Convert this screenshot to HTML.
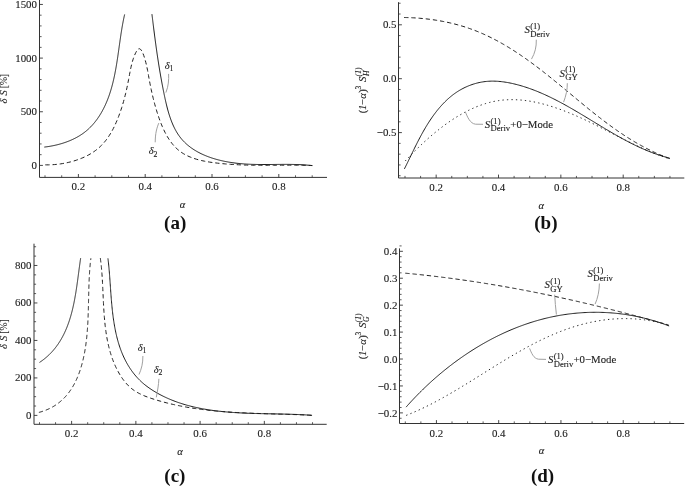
<!DOCTYPE html>
<html><head><meta charset="utf-8"><style>
html,body{margin:0;padding:0;background:#fff;}
svg{display:block;font-family:"Liberation Serif", serif;will-change:transform;}
text{stroke:#222;stroke-width:0.12px;}
</style></head><body>
<svg width="685" height="487" viewBox="0 0 685 487">
<rect width="685" height="487" fill="#fff"/>
<line x1="39.5" y1="177.4" x2="327" y2="177.4" stroke="#333333" stroke-width="1"/>
<line x1="39.5" y1="177.4" x2="39.5" y2="0" stroke="#333333" stroke-width="1"/>
<line x1="78.40" y1="177.4" x2="78.40" y2="174.00" stroke="#333333" stroke-width="0.9"/>
<line x1="145.20" y1="177.4" x2="145.20" y2="174.00" stroke="#333333" stroke-width="0.9"/>
<line x1="212.00" y1="177.4" x2="212.00" y2="174.00" stroke="#333333" stroke-width="0.9"/>
<line x1="278.80" y1="177.4" x2="278.80" y2="174.00" stroke="#333333" stroke-width="0.9"/>
<line x1="45.00" y1="177.4" x2="45.00" y2="175.30" stroke="#333333" stroke-width="0.8"/>
<line x1="61.70" y1="177.4" x2="61.70" y2="175.30" stroke="#333333" stroke-width="0.8"/>
<line x1="95.10" y1="177.4" x2="95.10" y2="175.30" stroke="#333333" stroke-width="0.8"/>
<line x1="111.80" y1="177.4" x2="111.80" y2="175.30" stroke="#333333" stroke-width="0.8"/>
<line x1="128.50" y1="177.4" x2="128.50" y2="175.30" stroke="#333333" stroke-width="0.8"/>
<line x1="161.90" y1="177.4" x2="161.90" y2="175.30" stroke="#333333" stroke-width="0.8"/>
<line x1="178.60" y1="177.4" x2="178.60" y2="175.30" stroke="#333333" stroke-width="0.8"/>
<line x1="195.30" y1="177.4" x2="195.30" y2="175.30" stroke="#333333" stroke-width="0.8"/>
<line x1="228.70" y1="177.4" x2="228.70" y2="175.30" stroke="#333333" stroke-width="0.8"/>
<line x1="245.40" y1="177.4" x2="245.40" y2="175.30" stroke="#333333" stroke-width="0.8"/>
<line x1="262.10" y1="177.4" x2="262.10" y2="175.30" stroke="#333333" stroke-width="0.8"/>
<line x1="295.50" y1="177.4" x2="295.50" y2="175.30" stroke="#333333" stroke-width="0.8"/>
<line x1="312.20" y1="177.4" x2="312.20" y2="175.30" stroke="#333333" stroke-width="0.8"/>
<line x1="39.5" y1="165.40" x2="42.90" y2="165.40" stroke="#333333" stroke-width="0.9"/>
<line x1="39.5" y1="111.75" x2="42.90" y2="111.75" stroke="#333333" stroke-width="0.9"/>
<line x1="39.5" y1="58.10" x2="42.90" y2="58.10" stroke="#333333" stroke-width="0.9"/>
<line x1="39.5" y1="4.45" x2="42.90" y2="4.45" stroke="#333333" stroke-width="0.9"/>
<line x1="39.5" y1="154.67" x2="41.60" y2="154.67" stroke="#333333" stroke-width="0.8"/>
<line x1="39.5" y1="143.94" x2="41.60" y2="143.94" stroke="#333333" stroke-width="0.8"/>
<line x1="39.5" y1="133.21" x2="41.60" y2="133.21" stroke="#333333" stroke-width="0.8"/>
<line x1="39.5" y1="122.48" x2="41.60" y2="122.48" stroke="#333333" stroke-width="0.8"/>
<line x1="39.5" y1="101.02" x2="41.60" y2="101.02" stroke="#333333" stroke-width="0.8"/>
<line x1="39.5" y1="90.29" x2="41.60" y2="90.29" stroke="#333333" stroke-width="0.8"/>
<line x1="39.5" y1="79.56" x2="41.60" y2="79.56" stroke="#333333" stroke-width="0.8"/>
<line x1="39.5" y1="68.83" x2="41.60" y2="68.83" stroke="#333333" stroke-width="0.8"/>
<line x1="39.5" y1="47.37" x2="41.60" y2="47.37" stroke="#333333" stroke-width="0.8"/>
<line x1="39.5" y1="36.64" x2="41.60" y2="36.64" stroke="#333333" stroke-width="0.8"/>
<line x1="39.5" y1="25.91" x2="41.60" y2="25.91" stroke="#333333" stroke-width="0.8"/>
<line x1="39.5" y1="15.18" x2="41.60" y2="15.18" stroke="#333333" stroke-width="0.8"/>
<text x="78.40" y="190" font-size="10.9" text-anchor="middle" font-style="normal" font-weight="normal" fill="#222" >0.2</text>
<text x="145.20" y="190" font-size="10.9" text-anchor="middle" font-style="normal" font-weight="normal" fill="#222" >0.4</text>
<text x="212.00" y="190" font-size="10.9" text-anchor="middle" font-style="normal" font-weight="normal" fill="#222" >0.6</text>
<text x="278.80" y="190" font-size="10.9" text-anchor="middle" font-style="normal" font-weight="normal" fill="#222" >0.8</text>
<text x="37" y="169.00" font-size="10.9" text-anchor="end" font-style="normal" font-weight="normal" fill="#222" >0</text>
<text x="37" y="115.35" font-size="10.9" text-anchor="end" font-style="normal" font-weight="normal" fill="#222" >500</text>
<text x="37" y="61.70" font-size="10.9" text-anchor="end" font-style="normal" font-weight="normal" fill="#222" >1000</text>
<text x="37" y="8.05" font-size="10.9" text-anchor="end" font-style="normal" font-weight="normal" fill="#222" >1500</text>
<line x1="398.5" y1="178.0" x2="684.3" y2="178.0" stroke="#333333" stroke-width="1"/>
<line x1="398.5" y1="178.0" x2="398.5" y2="2.2" stroke="#333333" stroke-width="1"/>
<line x1="436.17" y1="178.0" x2="436.17" y2="174.60" stroke="#333333" stroke-width="0.9"/>
<line x1="498.51" y1="178.0" x2="498.51" y2="174.60" stroke="#333333" stroke-width="0.9"/>
<line x1="560.85" y1="178.0" x2="560.85" y2="174.60" stroke="#333333" stroke-width="0.9"/>
<line x1="623.19" y1="178.0" x2="623.19" y2="174.60" stroke="#333333" stroke-width="0.9"/>
<line x1="405.00" y1="178.0" x2="405.00" y2="175.90" stroke="#333333" stroke-width="0.8"/>
<line x1="420.58" y1="178.0" x2="420.58" y2="175.90" stroke="#333333" stroke-width="0.8"/>
<line x1="451.75" y1="178.0" x2="451.75" y2="175.90" stroke="#333333" stroke-width="0.8"/>
<line x1="467.34" y1="178.0" x2="467.34" y2="175.90" stroke="#333333" stroke-width="0.8"/>
<line x1="482.92" y1="178.0" x2="482.92" y2="175.90" stroke="#333333" stroke-width="0.8"/>
<line x1="514.10" y1="178.0" x2="514.10" y2="175.90" stroke="#333333" stroke-width="0.8"/>
<line x1="529.68" y1="178.0" x2="529.68" y2="175.90" stroke="#333333" stroke-width="0.8"/>
<line x1="545.26" y1="178.0" x2="545.26" y2="175.90" stroke="#333333" stroke-width="0.8"/>
<line x1="576.43" y1="178.0" x2="576.43" y2="175.90" stroke="#333333" stroke-width="0.8"/>
<line x1="592.02" y1="178.0" x2="592.02" y2="175.90" stroke="#333333" stroke-width="0.8"/>
<line x1="607.61" y1="178.0" x2="607.61" y2="175.90" stroke="#333333" stroke-width="0.8"/>
<line x1="638.77" y1="178.0" x2="638.77" y2="175.90" stroke="#333333" stroke-width="0.8"/>
<line x1="654.36" y1="178.0" x2="654.36" y2="175.90" stroke="#333333" stroke-width="0.8"/>
<line x1="669.94" y1="178.0" x2="669.94" y2="175.90" stroke="#333333" stroke-width="0.8"/>
<line x1="398.5" y1="24.80" x2="401.90" y2="24.80" stroke="#333333" stroke-width="0.9"/>
<line x1="398.5" y1="78.70" x2="401.90" y2="78.70" stroke="#333333" stroke-width="0.9"/>
<line x1="398.5" y1="132.60" x2="401.90" y2="132.60" stroke="#333333" stroke-width="0.9"/>
<line x1="398.5" y1="175.72" x2="400.60" y2="175.72" stroke="#333333" stroke-width="0.8"/>
<line x1="398.5" y1="164.94" x2="400.60" y2="164.94" stroke="#333333" stroke-width="0.8"/>
<line x1="398.5" y1="154.16" x2="400.60" y2="154.16" stroke="#333333" stroke-width="0.8"/>
<line x1="398.5" y1="143.38" x2="400.60" y2="143.38" stroke="#333333" stroke-width="0.8"/>
<line x1="398.5" y1="121.82" x2="400.60" y2="121.82" stroke="#333333" stroke-width="0.8"/>
<line x1="398.5" y1="111.04" x2="400.60" y2="111.04" stroke="#333333" stroke-width="0.8"/>
<line x1="398.5" y1="100.26" x2="400.60" y2="100.26" stroke="#333333" stroke-width="0.8"/>
<line x1="398.5" y1="89.48" x2="400.60" y2="89.48" stroke="#333333" stroke-width="0.8"/>
<line x1="398.5" y1="67.92" x2="400.60" y2="67.92" stroke="#333333" stroke-width="0.8"/>
<line x1="398.5" y1="57.14" x2="400.60" y2="57.14" stroke="#333333" stroke-width="0.8"/>
<line x1="398.5" y1="46.36" x2="400.60" y2="46.36" stroke="#333333" stroke-width="0.8"/>
<line x1="398.5" y1="35.58" x2="400.60" y2="35.58" stroke="#333333" stroke-width="0.8"/>
<line x1="398.5" y1="14.02" x2="400.60" y2="14.02" stroke="#333333" stroke-width="0.8"/>
<line x1="398.5" y1="3.24" x2="400.60" y2="3.24" stroke="#333333" stroke-width="0.8"/>
<text x="436.17" y="190.8" font-size="10.9" text-anchor="middle" font-style="normal" font-weight="normal" fill="#222" >0.2</text>
<text x="498.51" y="190.8" font-size="10.9" text-anchor="middle" font-style="normal" font-weight="normal" fill="#222" >0.4</text>
<text x="560.85" y="190.8" font-size="10.9" text-anchor="middle" font-style="normal" font-weight="normal" fill="#222" >0.6</text>
<text x="623.19" y="190.8" font-size="10.9" text-anchor="middle" font-style="normal" font-weight="normal" fill="#222" >0.8</text>
<text x="396.5" y="28.40" font-size="10.9" text-anchor="end" font-style="normal" font-weight="normal" fill="#222" >0.5</text>
<text x="396.5" y="82.30" font-size="10.9" text-anchor="end" font-style="normal" font-weight="normal" fill="#222" >0.0</text>
<text x="396.5" y="136.20" font-size="10.9" text-anchor="end" font-style="normal" font-weight="normal" fill="#222" >&#8722;0.5</text>
<line x1="34.0" y1="424.3" x2="326.7" y2="424.3" stroke="#333333" stroke-width="1"/>
<line x1="34.0" y1="424.3" x2="34.0" y2="243.7" stroke="#333333" stroke-width="1"/>
<line x1="71.62" y1="424.3" x2="71.62" y2="420.90" stroke="#333333" stroke-width="0.9"/>
<line x1="135.86" y1="424.3" x2="135.86" y2="420.90" stroke="#333333" stroke-width="0.9"/>
<line x1="200.10" y1="424.3" x2="200.10" y2="420.90" stroke="#333333" stroke-width="0.9"/>
<line x1="264.34" y1="424.3" x2="264.34" y2="420.90" stroke="#333333" stroke-width="0.9"/>
<line x1="39.50" y1="424.3" x2="39.50" y2="422.20" stroke="#333333" stroke-width="0.8"/>
<line x1="55.56" y1="424.3" x2="55.56" y2="422.20" stroke="#333333" stroke-width="0.8"/>
<line x1="87.68" y1="424.3" x2="87.68" y2="422.20" stroke="#333333" stroke-width="0.8"/>
<line x1="103.74" y1="424.3" x2="103.74" y2="422.20" stroke="#333333" stroke-width="0.8"/>
<line x1="119.80" y1="424.3" x2="119.80" y2="422.20" stroke="#333333" stroke-width="0.8"/>
<line x1="151.92" y1="424.3" x2="151.92" y2="422.20" stroke="#333333" stroke-width="0.8"/>
<line x1="167.98" y1="424.3" x2="167.98" y2="422.20" stroke="#333333" stroke-width="0.8"/>
<line x1="184.04" y1="424.3" x2="184.04" y2="422.20" stroke="#333333" stroke-width="0.8"/>
<line x1="216.16" y1="424.3" x2="216.16" y2="422.20" stroke="#333333" stroke-width="0.8"/>
<line x1="232.22" y1="424.3" x2="232.22" y2="422.20" stroke="#333333" stroke-width="0.8"/>
<line x1="248.28" y1="424.3" x2="248.28" y2="422.20" stroke="#333333" stroke-width="0.8"/>
<line x1="280.40" y1="424.3" x2="280.40" y2="422.20" stroke="#333333" stroke-width="0.8"/>
<line x1="296.46" y1="424.3" x2="296.46" y2="422.20" stroke="#333333" stroke-width="0.8"/>
<line x1="312.52" y1="424.3" x2="312.52" y2="422.20" stroke="#333333" stroke-width="0.8"/>
<line x1="34.0" y1="415.40" x2="37.40" y2="415.40" stroke="#333333" stroke-width="0.9"/>
<line x1="34.0" y1="377.92" x2="37.40" y2="377.92" stroke="#333333" stroke-width="0.9"/>
<line x1="34.0" y1="340.44" x2="37.40" y2="340.44" stroke="#333333" stroke-width="0.9"/>
<line x1="34.0" y1="302.96" x2="37.40" y2="302.96" stroke="#333333" stroke-width="0.9"/>
<line x1="34.0" y1="265.48" x2="37.40" y2="265.48" stroke="#333333" stroke-width="0.9"/>
<line x1="34.0" y1="406.03" x2="36.10" y2="406.03" stroke="#333333" stroke-width="0.8"/>
<line x1="34.0" y1="396.66" x2="36.10" y2="396.66" stroke="#333333" stroke-width="0.8"/>
<line x1="34.0" y1="387.29" x2="36.10" y2="387.29" stroke="#333333" stroke-width="0.8"/>
<line x1="34.0" y1="368.55" x2="36.10" y2="368.55" stroke="#333333" stroke-width="0.8"/>
<line x1="34.0" y1="359.18" x2="36.10" y2="359.18" stroke="#333333" stroke-width="0.8"/>
<line x1="34.0" y1="349.81" x2="36.10" y2="349.81" stroke="#333333" stroke-width="0.8"/>
<line x1="34.0" y1="331.07" x2="36.10" y2="331.07" stroke="#333333" stroke-width="0.8"/>
<line x1="34.0" y1="321.70" x2="36.10" y2="321.70" stroke="#333333" stroke-width="0.8"/>
<line x1="34.0" y1="312.33" x2="36.10" y2="312.33" stroke="#333333" stroke-width="0.8"/>
<line x1="34.0" y1="293.59" x2="36.10" y2="293.59" stroke="#333333" stroke-width="0.8"/>
<line x1="34.0" y1="284.22" x2="36.10" y2="284.22" stroke="#333333" stroke-width="0.8"/>
<line x1="34.0" y1="274.85" x2="36.10" y2="274.85" stroke="#333333" stroke-width="0.8"/>
<line x1="34.0" y1="256.11" x2="36.10" y2="256.11" stroke="#333333" stroke-width="0.8"/>
<line x1="34.0" y1="246.74" x2="36.10" y2="246.74" stroke="#333333" stroke-width="0.8"/>
<text x="71.62" y="437.2" font-size="10.9" text-anchor="middle" font-style="normal" font-weight="normal" fill="#222" >0.2</text>
<text x="135.86" y="437.2" font-size="10.9" text-anchor="middle" font-style="normal" font-weight="normal" fill="#222" >0.4</text>
<text x="200.10" y="437.2" font-size="10.9" text-anchor="middle" font-style="normal" font-weight="normal" fill="#222" >0.6</text>
<text x="264.34" y="437.2" font-size="10.9" text-anchor="middle" font-style="normal" font-weight="normal" fill="#222" >0.8</text>
<text x="31.4" y="418.80" font-size="10.9" text-anchor="end" font-style="normal" font-weight="normal" fill="#222" >0</text>
<text x="31.4" y="381.32" font-size="10.9" text-anchor="end" font-style="normal" font-weight="normal" fill="#222" >200</text>
<text x="31.4" y="343.84" font-size="10.9" text-anchor="end" font-style="normal" font-weight="normal" fill="#222" >400</text>
<text x="31.4" y="306.36" font-size="10.9" text-anchor="end" font-style="normal" font-weight="normal" fill="#222" >600</text>
<text x="31.4" y="268.88" font-size="10.9" text-anchor="end" font-style="normal" font-weight="normal" fill="#222" >800</text>
<line x1="399.5" y1="423.5" x2="684.2" y2="423.5" stroke="#333333" stroke-width="1"/>
<line x1="399.5" y1="423.5" x2="399.5" y2="248.4" stroke="#333333" stroke-width="1"/>
<line x1="436.43" y1="423.5" x2="436.43" y2="420.10" stroke="#333333" stroke-width="0.9"/>
<line x1="498.69" y1="423.5" x2="498.69" y2="420.10" stroke="#333333" stroke-width="0.9"/>
<line x1="560.95" y1="423.5" x2="560.95" y2="420.10" stroke="#333333" stroke-width="0.9"/>
<line x1="623.21" y1="423.5" x2="623.21" y2="420.10" stroke="#333333" stroke-width="0.9"/>
<line x1="405.30" y1="423.5" x2="405.30" y2="421.40" stroke="#333333" stroke-width="0.8"/>
<line x1="420.87" y1="423.5" x2="420.87" y2="421.40" stroke="#333333" stroke-width="0.8"/>
<line x1="452.00" y1="423.5" x2="452.00" y2="421.40" stroke="#333333" stroke-width="0.8"/>
<line x1="467.56" y1="423.5" x2="467.56" y2="421.40" stroke="#333333" stroke-width="0.8"/>
<line x1="483.12" y1="423.5" x2="483.12" y2="421.40" stroke="#333333" stroke-width="0.8"/>
<line x1="514.25" y1="423.5" x2="514.25" y2="421.40" stroke="#333333" stroke-width="0.8"/>
<line x1="529.82" y1="423.5" x2="529.82" y2="421.40" stroke="#333333" stroke-width="0.8"/>
<line x1="545.38" y1="423.5" x2="545.38" y2="421.40" stroke="#333333" stroke-width="0.8"/>
<line x1="576.52" y1="423.5" x2="576.52" y2="421.40" stroke="#333333" stroke-width="0.8"/>
<line x1="592.08" y1="423.5" x2="592.08" y2="421.40" stroke="#333333" stroke-width="0.8"/>
<line x1="607.64" y1="423.5" x2="607.64" y2="421.40" stroke="#333333" stroke-width="0.8"/>
<line x1="638.78" y1="423.5" x2="638.78" y2="421.40" stroke="#333333" stroke-width="0.8"/>
<line x1="654.34" y1="423.5" x2="654.34" y2="421.40" stroke="#333333" stroke-width="0.8"/>
<line x1="669.90" y1="423.5" x2="669.90" y2="421.40" stroke="#333333" stroke-width="0.8"/>
<line x1="399.5" y1="251.30" x2="402.90" y2="251.30" stroke="#333333" stroke-width="0.9"/>
<line x1="399.5" y1="278.23" x2="402.90" y2="278.23" stroke="#333333" stroke-width="0.9"/>
<line x1="399.5" y1="305.16" x2="402.90" y2="305.16" stroke="#333333" stroke-width="0.9"/>
<line x1="399.5" y1="332.09" x2="402.90" y2="332.09" stroke="#333333" stroke-width="0.9"/>
<line x1="399.5" y1="359.02" x2="402.90" y2="359.02" stroke="#333333" stroke-width="0.9"/>
<line x1="399.5" y1="385.95" x2="402.90" y2="385.95" stroke="#333333" stroke-width="0.9"/>
<line x1="399.5" y1="412.88" x2="402.90" y2="412.88" stroke="#333333" stroke-width="0.9"/>
<line x1="399.5" y1="418.27" x2="401.60" y2="418.27" stroke="#333333" stroke-width="0.8"/>
<line x1="399.5" y1="407.49" x2="401.60" y2="407.49" stroke="#333333" stroke-width="0.8"/>
<line x1="399.5" y1="402.11" x2="401.60" y2="402.11" stroke="#333333" stroke-width="0.8"/>
<line x1="399.5" y1="396.72" x2="401.60" y2="396.72" stroke="#333333" stroke-width="0.8"/>
<line x1="399.5" y1="391.34" x2="401.60" y2="391.34" stroke="#333333" stroke-width="0.8"/>
<line x1="399.5" y1="380.56" x2="401.60" y2="380.56" stroke="#333333" stroke-width="0.8"/>
<line x1="399.5" y1="375.18" x2="401.60" y2="375.18" stroke="#333333" stroke-width="0.8"/>
<line x1="399.5" y1="369.79" x2="401.60" y2="369.79" stroke="#333333" stroke-width="0.8"/>
<line x1="399.5" y1="364.41" x2="401.60" y2="364.41" stroke="#333333" stroke-width="0.8"/>
<line x1="399.5" y1="353.63" x2="401.60" y2="353.63" stroke="#333333" stroke-width="0.8"/>
<line x1="399.5" y1="348.25" x2="401.60" y2="348.25" stroke="#333333" stroke-width="0.8"/>
<line x1="399.5" y1="342.86" x2="401.60" y2="342.86" stroke="#333333" stroke-width="0.8"/>
<line x1="399.5" y1="337.48" x2="401.60" y2="337.48" stroke="#333333" stroke-width="0.8"/>
<line x1="399.5" y1="326.70" x2="401.60" y2="326.70" stroke="#333333" stroke-width="0.8"/>
<line x1="399.5" y1="321.32" x2="401.60" y2="321.32" stroke="#333333" stroke-width="0.8"/>
<line x1="399.5" y1="315.93" x2="401.60" y2="315.93" stroke="#333333" stroke-width="0.8"/>
<line x1="399.5" y1="310.55" x2="401.60" y2="310.55" stroke="#333333" stroke-width="0.8"/>
<line x1="399.5" y1="299.77" x2="401.60" y2="299.77" stroke="#333333" stroke-width="0.8"/>
<line x1="399.5" y1="294.39" x2="401.60" y2="294.39" stroke="#333333" stroke-width="0.8"/>
<line x1="399.5" y1="289.00" x2="401.60" y2="289.00" stroke="#333333" stroke-width="0.8"/>
<line x1="399.5" y1="283.62" x2="401.60" y2="283.62" stroke="#333333" stroke-width="0.8"/>
<line x1="399.5" y1="272.84" x2="401.60" y2="272.84" stroke="#333333" stroke-width="0.8"/>
<line x1="399.5" y1="267.46" x2="401.60" y2="267.46" stroke="#333333" stroke-width="0.8"/>
<line x1="399.5" y1="262.07" x2="401.60" y2="262.07" stroke="#333333" stroke-width="0.8"/>
<line x1="399.5" y1="256.69" x2="401.60" y2="256.69" stroke="#333333" stroke-width="0.8"/>
<line x1="399.5" y1="245.91" x2="401.60" y2="245.91" stroke="#333333" stroke-width="0.8"/>
<text x="436.43" y="436.6" font-size="10.9" text-anchor="middle" font-style="normal" font-weight="normal" fill="#222" >0.2</text>
<text x="498.69" y="436.6" font-size="10.9" text-anchor="middle" font-style="normal" font-weight="normal" fill="#222" >0.4</text>
<text x="560.95" y="436.6" font-size="10.9" text-anchor="middle" font-style="normal" font-weight="normal" fill="#222" >0.6</text>
<text x="623.21" y="436.6" font-size="10.9" text-anchor="middle" font-style="normal" font-weight="normal" fill="#222" >0.8</text>
<text x="397.4" y="255.10" font-size="10.9" text-anchor="end" font-style="normal" font-weight="normal" fill="#222" >0.4</text>
<text x="397.4" y="282.03" font-size="10.9" text-anchor="end" font-style="normal" font-weight="normal" fill="#222" >0.3</text>
<text x="397.4" y="308.96" font-size="10.9" text-anchor="end" font-style="normal" font-weight="normal" fill="#222" >0.2</text>
<text x="397.4" y="335.89" font-size="10.9" text-anchor="end" font-style="normal" font-weight="normal" fill="#222" >0.1</text>
<text x="397.4" y="362.82" font-size="10.9" text-anchor="end" font-style="normal" font-weight="normal" fill="#222" >0.0</text>
<text x="397.4" y="389.75" font-size="10.9" text-anchor="end" font-style="normal" font-weight="normal" fill="#222" >&#8722;0.1</text>
<text x="397.4" y="416.68" font-size="10.9" text-anchor="end" font-style="normal" font-weight="normal" fill="#222" >&#8722;0.2</text>
<path d="M44.34,147.09 L45.01,147.01 L45.67,146.92 L46.34,146.84 L47.00,146.74 L47.67,146.65 L48.33,146.55 L49.00,146.44 L49.66,146.33 L50.33,146.22 L50.99,146.10 L51.66,145.98 L52.32,145.85 L52.98,145.72 L53.64,145.58 L54.31,145.44 L54.97,145.30 L55.63,145.15 L56.29,145.00 L56.94,144.84 L57.60,144.68 L58.26,144.51 L58.91,144.34 L59.56,144.16 L60.22,143.98 L60.87,143.79 L61.51,143.60 L62.16,143.41 L62.80,143.21 L63.45,143.00 L64.09,142.79 L64.73,142.58 L65.36,142.36 L66.00,142.14 L66.63,141.91 L67.26,141.67 L67.89,141.43 L68.51,141.19 L69.13,140.94 L69.75,140.69 L70.37,140.43 L70.98,140.17 L71.59,139.90 L72.20,139.62 L72.80,139.34 L73.40,139.06 L74.00,138.77 L74.59,138.48 L75.18,138.18 L75.77,137.87 L76.35,137.56 L76.93,137.25 L77.51,136.92 L78.08,136.60 L78.65,136.27 L79.21,135.93 L79.77,135.59 L80.32,135.24 L80.87,134.89 L81.42,134.53 L81.96,134.16 L82.50,133.79 L83.03,133.42 L83.56,133.04 L84.08,132.65 L84.60,132.26 L85.11,131.86 L85.61,131.46 L86.12,131.05 L86.61,130.64 L87.11,130.22 L87.59,129.79 L88.07,129.36 L88.55,128.92 L89.02,128.48 L89.49,128.04 L89.95,127.59 L90.41,127.13 L90.86,126.67 L91.31,126.21 L91.75,125.74 L92.19,125.26 L92.62,124.79 L93.05,124.30 L93.47,123.81 L93.89,123.32 L94.31,122.83 L94.72,122.33 L95.12,121.82 L95.52,121.31 L95.92,120.80 L96.31,120.29 L96.69,119.77 L97.08,119.24 L97.45,118.72 L97.83,118.19 L98.20,117.65 L98.56,117.11 L98.92,116.57 L99.27,116.03 L99.63,115.48 L99.97,114.93 L100.31,114.38 L100.65,113.82 L100.99,113.26 L101.31,112.70 L101.64,112.13 L101.96,111.57 L102.28,110.99 L102.59,110.42 L102.90,109.85 L103.20,109.27 L103.50,108.69 L103.80,108.11 L104.09,107.52 L104.38,106.93 L104.66,106.35 L104.94,105.76 L105.22,105.16 L105.49,104.57 L105.76,103.97 L106.02,103.37 L106.28,102.77 L106.54,102.17 L106.79,101.57 L107.04,100.96 L107.29,100.36 L107.53,99.75 L107.77,99.14 L108.00,98.53 L108.23,97.92 L108.46,97.30 L108.69,96.68 L108.91,96.07 L109.13,95.45 L109.34,94.83 L109.55,94.20 L109.76,93.58 L109.97,92.96 L110.17,92.33 L110.37,91.70 L110.56,91.07 L110.76,90.44 L110.95,89.81 L111.13,89.18 L111.32,88.55 L111.50,87.91 L111.68,87.27 L111.86,86.64 L112.03,86.00 L112.20,85.36 L112.37,84.72 L112.54,84.08 L112.70,83.43 L112.86,82.79 L113.02,82.14 L113.17,81.50 L113.33,80.85 L113.48,80.20 L113.63,79.56 L113.78,78.91 L113.92,78.26 L114.07,77.61 L114.21,76.95 L114.35,76.30 L114.48,75.65 L114.62,74.99 L114.75,74.34 L114.88,73.69 L115.01,73.03 L115.14,72.37 L115.26,71.72 L115.39,71.06 L115.51,70.40 L115.63,69.74 L115.75,69.08 L115.87,68.42 L115.99,67.76 L116.10,67.10 L116.22,66.44 L116.33,65.78 L116.44,65.12 L116.55,64.46 L116.66,63.80 L116.77,63.13 L116.87,62.47 L116.98,61.81 L117.08,61.14 L117.19,60.48 L117.29,59.82 L117.39,59.16 L117.49,58.49 L117.59,57.83 L117.69,57.16 L117.79,56.50 L117.88,55.84 L117.98,55.17 L118.08,54.51 L118.17,53.85 L118.27,53.18 L118.36,52.52 L118.46,51.86 L118.55,51.19 L118.64,50.53 L118.74,49.87 L118.83,49.21 L118.92,48.54 L119.02,47.88 L119.11,47.22 L119.20,46.56 L119.29,45.90 L119.39,45.24 L119.48,44.58 L119.57,43.92 L119.66,43.26 L119.76,42.60 L119.85,41.95 L119.94,41.29 L120.03,40.63 L120.13,39.98 L120.22,39.32 L120.32,38.66 L120.41,38.01 L120.51,37.36 L120.60,36.70 L120.70,36.05 L120.80,35.40 L120.89,34.75 L120.99,34.10 L121.09,33.45 L121.19,32.80 L121.29,32.16 L121.40,31.51 L121.50,30.86 L121.60,30.22 L121.71,29.58 L121.81,28.93 L121.92,28.29 L122.03,27.65 L122.14,27.01 L122.25,26.37 L122.36,25.74 L122.47,25.10 L122.59,24.47 L122.70,23.83 L122.82,23.20 L122.94,22.57 L123.06,21.94 L123.18,21.31 L123.30,20.69 L123.43,20.06 L123.55,19.44 L123.68,18.81 L123.81,18.19 L123.95,17.57 L124.08,16.95 L124.21,16.33 L124.35,15.72 L124.49,15.10 L124.63,14.49" fill="none" stroke="#1c1c1c" stroke-width="1"/>
<path d="M151.94,14.19 L152.07,15.26 L152.20,16.33 L152.33,17.39 L152.46,18.46 L152.59,19.51 L152.72,20.57 L152.85,21.62 L152.98,22.67 L153.11,23.72 L153.24,24.76 L153.37,25.80 L153.50,26.84 L153.63,27.88 L153.76,28.91 L153.89,29.94 L154.02,30.97 L154.15,32.00 L154.28,33.02 L154.41,34.04 L154.54,35.06 L154.67,36.08 L154.80,37.10 L154.94,38.11 L155.07,39.12 L155.20,40.13 L155.34,41.14 L155.47,42.15 L155.61,43.16 L155.75,44.16 L155.88,45.17 L156.02,46.17 L156.16,47.17 L156.30,48.17 L156.44,49.17 L156.58,50.17 L156.73,51.17 L156.87,52.16 L157.01,53.16 L157.16,54.16 L157.30,55.15 L157.45,56.15 L157.60,57.14 L157.75,58.14 L157.90,59.13 L158.05,60.12 L158.21,61.12 L158.36,62.11 L158.52,63.11 L158.67,64.10 L158.83,65.10 L158.99,66.09 L159.15,67.09 L159.32,68.08 L159.48,69.08 L159.65,70.08 L159.82,71.08 L159.98,72.08 L160.16,73.08 L160.33,74.08 L160.50,75.08 L160.68,76.08 L160.86,77.09 L161.04,78.10 L161.22,79.10 L161.40,80.11 L161.59,81.12 L161.77,82.13 L161.96,83.15 L162.15,84.16 L162.35,85.18 L162.54,86.20 L162.74,87.22 L162.94,88.25 L163.14,89.27 L163.34,90.30 L163.55,91.33 L163.76,92.36 L163.97,93.40 L164.18,94.44 L164.40,95.48 L164.61,96.52 L164.84,97.56 L165.06,98.61 L165.29,99.65 L165.52,100.70 L165.76,101.75 L166.00,102.79 L166.25,103.84 L166.50,104.88 L166.75,105.93 L167.02,106.97 L167.28,108.01 L167.56,109.04 L167.84,110.08 L168.13,111.11 L168.42,112.13 L168.72,113.16 L169.03,114.18 L169.35,115.19 L169.68,116.20 L170.01,117.20 L170.36,118.20 L170.71,119.19 L171.07,120.18 L171.44,121.15 L171.82,122.13 L172.21,123.09 L172.61,124.04 L173.03,124.99 L173.45,125.93 L173.88,126.86 L174.33,127.78 L174.79,128.69 L175.26,129.59 L175.74,130.48 L176.24,131.35 L176.74,132.22 L177.27,133.07 L177.80,133.92 L178.35,134.75 L178.91,135.57 L179.49,136.37 L180.08,137.16 L180.69,137.94 L181.31,138.70 L181.95,139.45 L182.60,140.19 L183.26,140.91 L183.94,141.62 L184.63,142.31 L185.34,142.99 L186.05,143.66 L186.78,144.32 L187.53,144.96 L188.28,145.59 L189.05,146.21 L189.83,146.81 L190.62,147.41 L191.42,147.99 L192.24,148.55 L193.06,149.11 L193.89,149.65 L194.74,150.18 L195.59,150.70 L196.46,151.21 L197.33,151.71 L198.21,152.19 L199.11,152.67 L200.01,153.13 L200.91,153.58 L201.83,154.02 L202.76,154.45 L203.69,154.87 L204.63,155.27 L205.57,155.67 L206.53,156.06 L207.49,156.43 L208.46,156.80 L209.43,157.15 L210.41,157.50 L211.39,157.83 L212.38,158.16 L213.37,158.47 L214.37,158.78 L215.38,159.07 L216.39,159.36 L217.40,159.64 L218.42,159.91 L219.43,160.17 L220.46,160.42 L221.48,160.66 L222.51,160.89 L223.54,161.11 L224.58,161.33 L225.61,161.54 L226.65,161.73 L227.69,161.92 L228.73,162.11 L229.77,162.28 L230.81,162.45 L231.85,162.60 L232.90,162.75 L233.94,162.90 L234.98,163.03 L236.02,163.16 L237.06,163.28 L238.10,163.40 L239.14,163.50 L240.18,163.60 L241.22,163.70 L242.26,163.79 L243.30,163.87 L244.34,163.94 L245.37,164.01 L246.41,164.08 L247.45,164.14 L248.48,164.19 L249.52,164.24 L250.55,164.29 L251.59,164.33 L252.62,164.36 L253.66,164.40 L254.69,164.42 L255.72,164.45 L256.76,164.47 L257.79,164.49 L258.82,164.50 L259.85,164.51 L260.88,164.52 L261.91,164.53 L262.95,164.53 L263.98,164.53 L265.01,164.53 L266.04,164.53 L267.07,164.52 L268.10,164.52 L269.12,164.51 L270.15,164.50 L271.18,164.49 L272.21,164.49 L273.24,164.47 L274.27,164.46 L275.30,164.45 L276.32,164.44 L277.35,164.43 L278.38,164.42 L279.41,164.41 L280.43,164.41 L281.46,164.40 L282.49,164.39 L283.51,164.39 L284.54,164.39 L285.57,164.39 L286.59,164.39 L287.62,164.39 L288.65,164.39 L289.67,164.40 L290.70,164.41 L291.73,164.43 L292.75,164.44 L293.78,164.46 L294.80,164.49 L295.83,164.51 L296.86,164.55 L297.88,164.58 L298.91,164.62 L299.94,164.66 L300.96,164.71 L301.99,164.77 L303.01,164.83 L304.04,164.89 L305.07,164.96 L306.09,165.03 L307.12,165.11 L308.15,165.20 L309.18,165.29 L310.20,165.39 L311.23,165.50 L312.26,165.61" fill="none" stroke="#1c1c1c" stroke-width="1"/>
<path d="M45.30,164.85 L46.77,164.87 L48.27,164.86 L49.78,164.83 L51.30,164.77 L52.84,164.68 L54.40,164.57 L55.96,164.43 L57.54,164.27 L59.12,164.08 L60.71,163.86 L62.31,163.61 L63.91,163.34 L65.51,163.04 L67.11,162.70 L68.71,162.34 L70.31,161.95 L71.90,161.53 L73.49,161.08 L75.07,160.60 L76.64,160.09 L78.20,159.55 L79.74,158.98 L81.28,158.37 L82.79,157.74 L84.29,157.07 L85.77,156.37 L87.24,155.64 L88.68,154.87 L90.09,154.07 L91.48,153.24 L92.84,152.37 L94.18,151.47 L95.49,150.53 L96.76,149.56 L98.00,148.55 L99.21,147.51 L100.38,146.43 L101.51,145.32 L102.61,144.18 L103.67,143.00 L104.71,141.79 L105.70,140.55 L106.67,139.29 L107.61,138.00 L108.52,136.69 L109.39,135.35 L110.24,133.99 L111.07,132.61 L111.86,131.22 L112.63,129.81 L113.38,128.38 L114.10,126.94 L114.80,125.48 L115.48,124.02 L116.13,122.54 L116.77,121.06 L117.39,119.57 L117.99,118.08 L118.57,116.58 L119.13,115.08 L119.68,113.58 L120.21,112.08 L120.73,110.58 L121.23,109.08 L121.72,107.57 L122.19,106.06 L122.65,104.55 L123.10,103.03 L123.54,101.51 L123.97,99.99 L124.38,98.45 L124.78,96.91 L125.17,95.37 L125.56,93.82 L125.93,92.26 L126.29,90.69 L126.65,89.11 L126.99,87.52 L127.33,85.92 L127.66,84.31 L127.98,82.69 L128.30,81.05 L128.61,79.41 L128.92,77.75 L129.23,76.09 L129.54,74.42 L129.86,72.75 L130.18,71.09 L130.51,69.43 L130.86,67.78 L131.23,66.15 L131.62,64.53 L132.03,62.93 L132.47,61.35 L132.94,59.80 L133.44,58.27 L133.97,56.78 L134.55,55.33 L135.16,53.92 L135.82,52.55 L136.52,51.26 L137.26,50.15 L138.01,49.31 L138.77,48.80 L139.53,48.73 L140.28,49.10 L141.01,49.85 L141.73,50.92 L142.42,52.24 L143.08,53.76 L143.71,55.42 L144.30,57.16 L144.84,58.90 L145.34,60.63 L145.79,62.34 L146.21,64.04 L146.60,65.72 L146.96,67.38 L147.30,69.03 L147.62,70.67 L147.92,72.29 L148.21,73.90 L148.50,75.50 L148.78,77.09 L149.07,78.67 L149.36,80.24 L149.65,81.80 L149.95,83.36 L150.26,84.91 L150.57,86.45 L150.88,87.99 L151.20,89.52 L151.53,91.05 L151.87,92.57 L152.21,94.10 L152.57,95.62 L152.93,97.14 L153.30,98.66 L153.68,100.18 L154.08,101.70 L154.48,103.22 L154.89,104.74 L155.32,106.27 L155.76,107.80 L156.22,109.34 L156.68,110.88 L157.17,112.43 L157.66,113.98 L158.17,115.54 L158.70,117.10 L159.25,118.66 L159.81,120.22 L160.39,121.78 L160.99,123.34 L161.62,124.88 L162.26,126.42 L162.93,127.94 L163.61,129.45 L164.33,130.95 L165.06,132.43 L165.83,133.89 L166.62,135.32 L167.43,136.74 L168.28,138.13 L169.15,139.48 L170.05,140.81 L170.99,142.11 L171.95,143.37 L172.95,144.60 L173.98,145.79 L175.04,146.94 L176.14,148.04 L177.27,149.10 L178.44,150.12 L179.65,151.08 L180.89,152.00 L182.17,152.87 L183.49,153.69 L184.83,154.46 L186.21,155.20 L187.61,155.89 L189.05,156.54 L190.51,157.15 L191.99,157.73 L193.49,158.27 L195.02,158.77 L196.56,159.25 L198.12,159.69 L199.70,160.10 L201.29,160.49 L202.89,160.85 L204.51,161.18 L206.13,161.49 L207.76,161.78 L209.40,162.05 L211.04,162.30 L212.68,162.53 L214.32,162.75 L215.96,162.96 L217.60,163.15 L219.24,163.33 L220.87,163.50 L222.49,163.66 L224.12,163.81 L225.74,163.96 L227.35,164.09 L228.97,164.21 L230.57,164.33 L232.18,164.43 L233.78,164.53 L235.38,164.62 L236.98,164.70 L238.58,164.78 L240.17,164.85 L241.76,164.91 L243.35,164.97 L244.94,165.02 L246.53,165.06 L248.11,165.10 L249.70,165.13 L251.28,165.16 L252.86,165.19 L254.44,165.21 L256.02,165.22 L257.60,165.24 L259.18,165.24 L260.76,165.25 L262.34,165.25 L263.93,165.25 L265.51,165.25 L267.09,165.25 L268.67,165.24 L270.25,165.23 L271.84,165.23 L273.43,165.22 L275.01,165.21 L276.60,165.20 L278.19,165.19 L279.79,165.18 L281.38,165.17 L282.98,165.16 L284.58,165.16 L286.18,165.15 L287.79,165.15 L289.40,165.15 L291.01,165.15 L292.63,165.15 L294.24,165.16 L295.87,165.17 L297.49,165.19 L299.12,165.20 L300.76,165.23 L302.40,165.25 L304.04,165.28 L305.69,165.32 L307.34,165.36 L309.00,165.41 L310.66,165.46 L312.33,165.52" fill="none" stroke="#1c1c1c" stroke-width="1" stroke-dasharray="4.3 2.9"/>
<path d="M404.41,168.87 L404.93,167.83 L405.46,166.79 L405.98,165.74 L406.50,164.68 L407.02,163.62 L407.55,162.55 L408.07,161.47 L408.60,160.39 L409.12,159.30 L409.65,158.20 L410.18,157.10 L410.72,156.00 L411.25,154.89 L411.79,153.77 L412.33,152.66 L412.88,151.54 L413.43,150.41 L413.98,149.29 L414.53,148.16 L415.09,147.02 L415.65,145.89 L416.22,144.76 L416.79,143.62 L417.37,142.48 L417.95,141.34 L418.54,140.21 L419.13,139.07 L419.73,137.93 L420.33,136.79 L420.94,135.66 L421.56,134.52 L422.18,133.39 L422.81,132.26 L423.45,131.13 L424.09,130.00 L424.74,128.88 L425.40,127.76 L426.07,126.64 L426.74,125.53 L427.42,124.42 L428.11,123.32 L428.81,122.22 L429.52,121.13 L430.24,120.04 L430.97,118.96 L431.71,117.88 L432.45,116.81 L433.21,115.75 L433.98,114.69 L434.75,113.65 L435.54,112.61 L436.33,111.58 L437.14,110.56 L437.96,109.55 L438.78,108.55 L439.62,107.57 L440.47,106.59 L441.32,105.63 L442.19,104.68 L443.07,103.74 L443.96,102.81 L444.86,101.90 L445.77,101.01 L446.69,100.13 L447.62,99.26 L448.57,98.41 L449.52,97.58 L450.49,96.77 L451.46,95.97 L452.45,95.19 L453.45,94.43 L454.46,93.69 L455.48,92.97 L456.51,92.27 L457.56,91.58 L458.61,90.92 L459.67,90.28 L460.75,89.66 L461.83,89.05 L462.93,88.47 L464.03,87.91 L465.14,87.37 L466.26,86.86 L467.39,86.36 L468.52,85.88 L469.67,85.43 L470.82,85.00 L471.98,84.59 L473.15,84.20 L474.32,83.84 L475.50,83.49 L476.68,83.17 L477.87,82.87 L479.07,82.60 L480.27,82.35 L481.48,82.12 L482.69,81.91 L483.91,81.73 L485.13,81.57 L486.36,81.44 L487.58,81.33 L488.82,81.24 L490.05,81.18 L491.29,81.14 L492.53,81.13 L493.78,81.14 L495.02,81.17 L496.27,81.22 L497.52,81.29 L498.77,81.38 L500.02,81.49 L501.27,81.62 L502.52,81.77 L503.77,81.93 L505.02,82.12 L506.27,82.32 L507.52,82.53 L508.76,82.76 L510.01,83.00 L511.25,83.26 L512.49,83.53 L513.73,83.82 L514.96,84.12 L516.19,84.42 L517.42,84.74 L518.64,85.07 L519.86,85.41 L521.08,85.76 L522.29,86.12 L523.50,86.49 L524.70,86.87 L525.91,87.25 L527.10,87.65 L528.30,88.06 L529.49,88.47 L530.68,88.90 L531.86,89.33 L533.04,89.77 L534.22,90.22 L535.39,90.67 L536.57,91.14 L537.73,91.61 L538.90,92.09 L540.06,92.58 L541.22,93.08 L542.38,93.58 L543.53,94.09 L544.69,94.60 L545.83,95.13 L546.98,95.66 L548.13,96.19 L549.27,96.74 L550.41,97.28 L551.54,97.84 L552.68,98.40 L553.81,98.96 L554.94,99.53 L556.07,100.11 L557.20,100.69 L558.32,101.28 L559.44,101.87 L560.56,102.47 L561.68,103.07 L562.80,103.67 L563.92,104.28 L565.03,104.89 L566.14,105.51 L567.25,106.13 L568.36,106.76 L569.47,107.39 L570.58,108.02 L571.68,108.65 L572.79,109.29 L573.89,109.93 L574.99,110.57 L576.09,111.22 L577.19,111.86 L578.29,112.51 L579.39,113.17 L580.49,113.82 L581.58,114.48 L582.68,115.13 L583.77,115.79 L584.87,116.45 L585.96,117.11 L587.06,117.77 L588.15,118.44 L589.24,119.10 L590.34,119.76 L591.43,120.43 L592.52,121.09 L593.61,121.76 L594.71,122.42 L595.80,123.08 L596.89,123.75 L597.98,124.41 L599.08,125.07 L600.17,125.73 L601.26,126.39 L602.36,127.05 L603.45,127.71 L604.55,128.37 L605.64,129.02 L606.74,129.67 L607.83,130.32 L608.93,130.97 L610.03,131.62 L611.13,132.26 L612.23,132.90 L613.33,133.54 L614.43,134.17 L615.53,134.81 L616.64,135.43 L617.74,136.06 L618.85,136.68 L619.95,137.30 L621.06,137.91 L622.17,138.52 L623.28,139.13 L624.40,139.73 L625.51,140.33 L626.63,140.92 L627.75,141.51 L628.87,142.09 L629.99,142.67 L631.11,143.24 L632.24,143.80 L633.37,144.37 L634.50,144.92 L635.63,145.47 L636.76,146.01 L637.90,146.55 L639.04,147.08 L640.18,147.61 L641.32,148.12 L642.46,148.63 L643.61,149.14 L644.76,149.63 L645.92,150.12 L647.07,150.60 L648.23,151.08 L649.39,151.54 L650.56,152.00 L651.73,152.45 L652.90,152.90 L654.07,153.33 L655.25,153.75 L656.42,154.17 L657.61,154.58 L658.79,154.98 L659.98,155.37 L661.18,155.75 L662.37,156.12 L663.57,156.48 L664.78,156.83 L665.98,157.17 L667.19,157.50 L668.41,157.82 L669.63,158.13" fill="none" stroke="#1c1c1c" stroke-width="1"/>
<path d="M404.18,17.50 L405.39,17.53 L406.59,17.56 L407.79,17.59 L408.99,17.63 L410.19,17.68 L411.39,17.73 L412.59,17.79 L413.79,17.85 L414.99,17.92 L416.18,18.00 L417.38,18.08 L418.57,18.17 L419.77,18.26 L420.96,18.37 L422.15,18.47 L423.34,18.59 L424.53,18.71 L425.72,18.83 L426.91,18.96 L428.09,19.10 L429.28,19.25 L430.46,19.40 L431.64,19.55 L432.82,19.72 L434.00,19.89 L435.18,20.07 L436.35,20.25 L437.53,20.44 L438.70,20.64 L439.87,20.84 L441.04,21.05 L442.21,21.26 L443.37,21.49 L444.54,21.72 L445.70,21.95 L446.86,22.20 L448.01,22.45 L449.17,22.70 L450.32,22.97 L451.47,23.24 L452.62,23.52 L453.77,23.80 L454.91,24.09 L456.06,24.39 L457.19,24.69 L458.33,25.01 L459.47,25.33 L460.60,25.65 L461.73,25.99 L462.86,26.33 L463.98,26.67 L465.10,27.03 L466.22,27.39 L467.34,27.76 L468.45,28.14 L469.56,28.52 L470.67,28.91 L471.77,29.31 L472.88,29.72 L473.97,30.13 L475.07,30.55 L476.16,30.98 L477.25,31.42 L478.34,31.86 L479.42,32.31 L480.50,32.77 L481.58,33.23 L482.66,33.70 L483.73,34.18 L484.80,34.66 L485.87,35.15 L486.93,35.65 L487.99,36.15 L489.05,36.66 L490.10,37.17 L491.16,37.69 L492.21,38.22 L493.25,38.76 L494.30,39.29 L495.34,39.84 L496.38,40.39 L497.42,40.95 L498.45,41.51 L499.48,42.08 L500.51,42.65 L501.54,43.23 L502.56,43.81 L503.58,44.40 L504.60,44.99 L505.62,45.59 L506.63,46.20 L507.65,46.80 L508.66,47.42 L509.66,48.04 L510.67,48.66 L511.67,49.29 L512.67,49.92 L513.67,50.55 L514.66,51.19 L515.66,51.84 L516.65,52.49 L517.63,53.14 L518.62,53.79 L519.61,54.45 L520.59,55.12 L521.57,55.79 L522.54,56.46 L523.52,57.13 L524.49,57.81 L525.47,58.49 L526.44,59.18 L527.40,59.87 L528.37,60.56 L529.33,61.25 L530.29,61.95 L531.25,62.65 L532.21,63.35 L533.17,64.06 L534.12,64.77 L535.07,65.48 L536.02,66.19 L536.97,66.91 L537.92,67.63 L538.86,68.35 L539.80,69.07 L540.74,69.80 L541.68,70.53 L542.62,71.25 L543.56,71.99 L544.49,72.72 L545.42,73.45 L546.35,74.19 L547.28,74.93 L548.21,75.67 L549.14,76.41 L550.07,77.15 L550.99,77.89 L551.91,78.64 L552.84,79.39 L553.76,80.13 L554.68,80.88 L555.60,81.63 L556.52,82.38 L557.43,83.13 L558.35,83.89 L559.27,84.64 L560.18,85.39 L561.10,86.15 L562.01,86.90 L562.92,87.66 L563.84,88.42 L564.75,89.17 L565.66,89.93 L566.57,90.69 L567.48,91.44 L568.39,92.20 L569.30,92.96 L570.21,93.72 L571.12,94.47 L572.03,95.23 L572.94,95.99 L573.85,96.75 L574.76,97.50 L575.67,98.26 L576.58,99.02 L577.49,99.77 L578.41,100.53 L579.32,101.28 L580.23,102.03 L581.14,102.79 L582.05,103.54 L582.96,104.29 L583.88,105.04 L584.79,105.79 L585.71,106.53 L586.62,107.28 L587.54,108.03 L588.45,108.77 L589.37,109.51 L590.29,110.25 L591.21,110.99 L592.13,111.73 L593.05,112.47 L593.98,113.20 L594.90,113.94 L595.82,114.67 L596.75,115.40 L597.68,116.12 L598.61,116.85 L599.54,117.57 L600.47,118.29 L601.40,119.01 L602.34,119.73 L603.27,120.44 L604.21,121.15 L605.15,121.86 L606.09,122.57 L607.03,123.27 L607.98,123.98 L608.93,124.67 L609.88,125.37 L610.83,126.06 L611.78,126.75 L612.73,127.44 L613.69,128.12 L614.65,128.81 L615.61,129.48 L616.58,130.16 L617.54,130.83 L618.51,131.50 L619.48,132.16 L620.46,132.82 L621.43,133.48 L622.41,134.13 L623.39,134.78 L624.37,135.43 L625.36,136.07 L626.35,136.71 L627.34,137.34 L628.34,137.97 L629.34,138.60 L630.34,139.22 L631.34,139.84 L632.35,140.45 L633.36,141.06 L634.37,141.67 L635.39,142.27 L636.41,142.86 L637.43,143.45 L638.46,144.04 L639.49,144.62 L640.52,145.20 L641.56,145.77 L642.60,146.33 L643.64,146.90 L644.69,147.45 L645.74,148.00 L646.80,148.55 L647.86,149.09 L648.92,149.63 L649.99,150.16 L651.06,150.68 L652.13,151.20 L653.21,151.71 L654.29,152.22 L655.38,152.72 L656.47,153.22 L657.57,153.71 L658.67,154.19 L659.77,154.67 L660.88,155.14 L661.99,155.61 L663.11,156.07 L664.23,156.52 L665.36,156.97 L666.49,157.41 L667.63,157.85 L668.77,158.27 L669.92,158.70" fill="none" stroke="#1c1c1c" stroke-width="1" stroke-dasharray="4.3 2.9"/>
<path d="M405.28,160.93 L406.02,160.15 L406.76,159.36 L407.50,158.57 L408.25,157.78 L409.01,156.99 L409.77,156.20 L410.53,155.40 L411.31,154.61 L412.08,153.82 L412.86,153.02 L413.65,152.22 L414.44,151.43 L415.24,150.63 L416.04,149.84 L416.84,149.05 L417.66,148.25 L418.47,147.46 L419.29,146.67 L420.12,145.88 L420.95,145.09 L421.78,144.30 L422.62,143.51 L423.46,142.73 L424.31,141.94 L425.16,141.16 L426.02,140.38 L426.88,139.61 L427.75,138.83 L428.62,138.06 L429.49,137.29 L430.37,136.53 L431.26,135.76 L432.14,135.01 L433.04,134.25 L433.93,133.50 L434.83,132.75 L435.74,132.01 L436.64,131.27 L437.56,130.53 L438.47,129.80 L439.39,129.08 L440.32,128.36 L441.25,127.64 L442.18,126.93 L443.11,126.22 L444.05,125.53 L445.00,124.83 L445.95,124.14 L446.90,123.46 L447.85,122.78 L448.81,122.11 L449.77,121.45 L450.74,120.79 L451.71,120.14 L452.68,119.50 L453.65,118.87 L454.63,118.24 L455.62,117.62 L456.60,117.00 L457.59,116.40 L458.59,115.80 L459.58,115.21 L460.58,114.63 L461.58,114.06 L462.59,113.49 L463.60,112.94 L464.61,112.39 L465.63,111.86 L466.64,111.33 L467.66,110.81 L468.69,110.30 L469.72,109.80 L470.75,109.31 L471.78,108.83 L472.81,108.37 L473.85,107.91 L474.89,107.46 L475.94,107.02 L476.99,106.60 L478.03,106.18 L479.09,105.78 L480.14,105.39 L481.20,105.01 L482.26,104.64 L483.32,104.28 L484.38,103.94 L485.45,103.60 L486.52,103.28 L487.59,102.97 L488.67,102.68 L489.74,102.40 L490.82,102.13 L491.90,101.87 L492.99,101.63 L494.07,101.40 L495.16,101.19 L496.25,100.99 L497.34,100.80 L498.44,100.63 L499.53,100.47 L500.63,100.32 L501.73,100.19 L502.83,100.08 L503.93,99.98 L505.04,99.89 L506.14,99.81 L507.25,99.75 L508.36,99.71 L509.47,99.67 L510.58,99.65 L511.70,99.65 L512.81,99.65 L513.93,99.67 L515.05,99.70 L516.16,99.74 L517.28,99.79 L518.40,99.86 L519.52,99.94 L520.64,100.03 L521.77,100.13 L522.89,100.24 L524.01,100.37 L525.13,100.50 L526.26,100.65 L527.38,100.80 L528.51,100.97 L529.63,101.15 L530.76,101.33 L531.88,101.53 L533.00,101.74 L534.13,101.95 L535.25,102.18 L536.38,102.42 L537.50,102.66 L538.62,102.92 L539.75,103.18 L540.87,103.45 L541.99,103.73 L543.11,104.02 L544.23,104.32 L545.35,104.62 L546.47,104.93 L547.59,105.25 L548.71,105.58 L549.82,105.92 L550.94,106.26 L552.05,106.61 L553.16,106.97 L554.27,107.33 L555.38,107.70 L556.49,108.08 L557.60,108.46 L558.70,108.85 L559.80,109.25 L560.91,109.65 L562.01,110.06 L563.10,110.47 L564.20,110.89 L565.29,111.31 L566.38,111.74 L567.47,112.17 L568.56,112.61 L569.65,113.05 L570.73,113.50 L571.81,113.95 L572.89,114.40 L573.96,114.86 L575.03,115.32 L576.10,115.79 L577.17,116.26 L578.23,116.73 L579.29,117.21 L580.35,117.69 L581.41,118.17 L582.46,118.66 L583.52,119.14 L584.57,119.63 L585.61,120.13 L586.66,120.62 L587.70,121.12 L588.74,121.62 L589.78,122.12 L590.82,122.63 L591.86,123.14 L592.89,123.64 L593.93,124.15 L594.96,124.67 L595.99,125.18 L597.01,125.69 L598.04,126.21 L599.07,126.73 L600.09,127.25 L601.12,127.77 L602.14,128.29 L603.16,128.81 L604.18,129.33 L605.20,129.85 L606.22,130.37 L607.23,130.90 L608.25,131.42 L609.27,131.94 L610.28,132.46 L611.30,132.99 L612.31,133.51 L613.33,134.03 L614.34,134.55 L615.36,135.08 L616.37,135.60 L617.39,136.12 L618.40,136.63 L619.41,137.15 L620.43,137.67 L621.44,138.19 L622.46,138.70 L623.47,139.21 L624.49,139.72 L625.50,140.23 L626.52,140.74 L627.54,141.25 L628.55,141.75 L629.57,142.25 L630.59,142.75 L631.61,143.25 L632.63,143.75 L633.65,144.24 L634.68,144.73 L635.70,145.22 L636.73,145.70 L637.75,146.18 L638.78,146.66 L639.81,147.14 L640.84,147.61 L641.87,148.08 L642.91,148.54 L643.94,149.01 L644.98,149.46 L646.02,149.92 L647.06,150.37 L648.10,150.81 L649.15,151.26 L650.19,151.69 L651.24,152.13 L652.29,152.56 L653.35,152.98 L654.40,153.40 L655.46,153.82 L656.52,154.23 L657.58,154.63 L658.65,155.03 L659.72,155.42 L660.79,155.81 L661.86,156.20 L662.94,156.58 L664.02,156.95 L665.10,157.32 L666.19,157.68 L667.28,158.03 L668.37,158.38 L669.47,158.72" fill="none" stroke="#1c1c1c" stroke-width="1" stroke-dasharray="1.3 3.2"/>
<path d="M39.52,362.43 L39.92,362.16 L40.31,361.89 L40.70,361.62 L41.09,361.35 L41.48,361.08 L41.86,360.81 L42.24,360.53 L42.62,360.25 L42.99,359.97 L43.36,359.69 L43.73,359.40 L44.10,359.12 L44.46,358.83 L44.82,358.54 L45.18,358.25 L45.53,357.95 L45.88,357.66 L46.23,357.36 L46.58,357.06 L46.92,356.76 L47.26,356.46 L47.60,356.15 L47.94,355.84 L48.27,355.54 L48.60,355.23 L48.93,354.91 L49.25,354.60 L49.57,354.29 L49.89,353.97 L50.21,353.65 L50.52,353.33 L50.84,353.01 L51.15,352.69 L51.45,352.36 L51.76,352.03 L52.06,351.71 L52.36,351.38 L52.65,351.04 L52.95,350.71 L53.24,350.38 L53.53,350.04 L53.81,349.70 L54.10,349.36 L54.38,349.02 L54.66,348.68 L54.94,348.34 L55.21,347.99 L55.48,347.64 L55.75,347.30 L56.02,346.95 L56.29,346.60 L56.55,346.24 L56.81,345.89 L57.07,345.53 L57.32,345.18 L57.58,344.82 L57.83,344.46 L58.08,344.10 L58.33,343.73 L58.57,343.37 L58.81,343.00 L59.05,342.64 L59.29,342.27 L59.53,341.90 L59.76,341.53 L60.00,341.16 L60.23,340.78 L60.45,340.41 L60.68,340.03 L60.90,339.66 L61.12,339.28 L61.34,338.90 L61.56,338.52 L61.78,338.14 L61.99,337.75 L62.20,337.37 L62.41,336.98 L62.62,336.60 L62.82,336.21 L63.03,335.82 L63.23,335.43 L63.43,335.04 L63.63,334.65 L63.82,334.25 L64.01,333.86 L64.21,333.46 L64.40,333.07 L64.59,332.67 L64.77,332.27 L64.96,331.87 L65.14,331.47 L65.32,331.07 L65.50,330.67 L65.68,330.26 L65.85,329.86 L66.03,329.45 L66.20,329.04 L66.37,328.64 L66.54,328.23 L66.71,327.82 L66.87,327.41 L67.04,327.00 L67.20,326.58 L67.36,326.17 L67.52,325.76 L67.67,325.34 L67.83,324.93 L67.98,324.51 L68.14,324.09 L68.29,323.67 L68.44,323.25 L68.59,322.83 L68.73,322.41 L68.88,321.99 L69.02,321.57 L69.16,321.15 L69.30,320.72 L69.44,320.30 L69.58,319.87 L69.72,319.45 L69.85,319.02 L69.98,318.59 L70.12,318.16 L70.25,317.74 L70.37,317.31 L70.50,316.88 L70.63,316.45 L70.75,316.01 L70.88,315.58 L71.00,315.15 L71.12,314.72 L71.24,314.28 L71.36,313.85 L71.48,313.41 L71.59,312.98 L71.71,312.54 L71.82,312.10 L71.94,311.67 L72.05,311.23 L72.16,310.79 L72.27,310.35 L72.37,309.91 L72.48,309.47 L72.59,309.03 L72.69,308.59 L72.79,308.15 L72.90,307.71 L73.00,307.27 L73.10,306.83 L73.20,306.38 L73.30,305.94 L73.39,305.50 L73.49,305.05 L73.59,304.61 L73.68,304.17 L73.77,303.72 L73.86,303.28 L73.96,302.83 L74.05,302.39 L74.14,301.94 L74.22,301.49 L74.31,301.05 L74.40,300.60 L74.49,300.15 L74.57,299.71 L74.66,299.26 L74.74,298.81 L74.82,298.36 L74.90,297.91 L74.98,297.47 L75.07,297.02 L75.14,296.57 L75.22,296.12 L75.30,295.67 L75.38,295.22 L75.46,294.77 L75.53,294.32 L75.61,293.87 L75.68,293.42 L75.76,292.98 L75.83,292.53 L75.90,292.08 L75.97,291.63 L76.05,291.18 L76.12,290.73 L76.19,290.28 L76.26,289.83 L76.33,289.38 L76.40,288.93 L76.46,288.48 L76.53,288.03 L76.60,287.58 L76.67,287.13 L76.73,286.68 L76.80,286.23 L76.86,285.78 L76.93,285.33 L76.99,284.88 L77.06,284.43 L77.12,283.99 L77.18,283.54 L77.25,283.09 L77.31,282.64 L77.37,282.19 L77.43,281.74 L77.50,281.30 L77.56,280.85 L77.62,280.40 L77.68,279.96 L77.74,279.51 L77.80,279.06 L77.86,278.62 L77.92,278.17 L77.98,277.72 L78.04,277.28 L78.10,276.83 L78.16,276.39 L78.22,275.94 L78.28,275.50 L78.33,275.06 L78.39,274.61 L78.45,274.17 L78.51,273.73 L78.57,273.29 L78.63,272.84 L78.68,272.40 L78.74,271.96 L78.80,271.52 L78.86,271.08 L78.92,270.64 L78.97,270.20 L79.03,269.76 L79.09,269.33 L79.15,268.89 L79.21,268.45 L79.26,268.01 L79.32,267.58 L79.38,267.14 L79.44,266.71 L79.50,266.27 L79.56,265.84 L79.62,265.41 L79.68,264.97 L79.74,264.54 L79.80,264.11 L79.86,263.68 L79.92,263.25 L79.98,262.82 L80.04,262.39 L80.10,261.96 L80.16,261.54 L80.22,261.11 L80.28,260.68 L80.34,260.26 L80.40,259.83 L80.47,259.41 L80.53,258.99 L80.59,258.56 L80.66,258.14" fill="none" stroke="#1c1c1c" stroke-width="1"/>
<path d="M38.90,412.42 L39.65,412.22 L40.39,412.01 L41.12,411.80 L41.84,411.57 L42.56,411.34 L43.26,411.11 L43.97,410.86 L44.66,410.61 L45.34,410.35 L46.02,410.09 L46.69,409.81 L47.35,409.53 L48.01,409.25 L48.66,408.95 L49.30,408.65 L49.93,408.34 L50.56,408.03 L51.18,407.71 L51.79,407.38 L52.39,407.05 L52.99,406.71 L53.58,406.36 L54.16,406.00 L54.74,405.64 L55.31,405.28 L55.87,404.91 L56.43,404.53 L56.98,404.14 L57.52,403.75 L58.06,403.36 L58.59,402.95 L59.11,402.55 L59.63,402.13 L60.14,401.71 L60.64,401.29 L61.14,400.86 L61.63,400.42 L62.11,399.98 L62.59,399.54 L63.06,399.09 L63.53,398.63 L63.99,398.17 L64.44,397.70 L64.89,397.23 L65.33,396.75 L65.77,396.27 L66.20,395.78 L66.62,395.29 L67.04,394.80 L67.46,394.30 L67.86,393.79 L68.26,393.28 L68.66,392.77 L69.05,392.25 L69.43,391.73 L69.81,391.20 L70.19,390.67 L70.55,390.13 L70.92,389.60 L71.27,389.05 L71.63,388.51 L71.97,387.96 L72.32,387.40 L72.65,386.84 L72.98,386.28 L73.31,385.72 L73.63,385.15 L73.95,384.58 L74.26,384.00 L74.57,383.42 L74.87,382.84 L75.17,382.26 L75.46,381.67 L75.75,381.08 L76.03,380.48 L76.31,379.89 L76.59,379.29 L76.86,378.68 L77.12,378.08 L77.38,377.47 L77.64,376.86 L77.89,376.25 L78.14,375.63 L78.38,375.01 L78.62,374.39 L78.86,373.77 L79.09,373.15 L79.32,372.52 L79.54,371.89 L79.76,371.26 L79.97,370.63 L80.19,369.99 L80.39,369.36 L80.60,368.72 L80.80,368.08 L80.99,367.44 L81.19,366.80 L81.38,366.15 L81.56,365.51 L81.74,364.86 L81.92,364.21 L82.10,363.56 L82.27,362.91 L82.44,362.26 L82.60,361.61 L82.77,360.95 L82.93,360.30 L83.08,359.64 L83.23,358.99 L83.38,358.33 L83.53,357.67 L83.67,357.02 L83.81,356.36 L83.95,355.70 L84.09,355.04 L84.22,354.37 L84.35,353.71 L84.47,353.05 L84.60,352.39 L84.72,351.72 L84.84,351.06 L84.95,350.39 L85.07,349.73 L85.18,349.06 L85.28,348.39 L85.39,347.72 L85.49,347.06 L85.59,346.39 L85.69,345.72 L85.78,345.05 L85.88,344.38 L85.97,343.70 L86.06,343.03 L86.14,342.36 L86.23,341.69 L86.31,341.01 L86.39,340.34 L86.47,339.67 L86.54,338.99 L86.62,338.32 L86.69,337.64 L86.76,336.97 L86.82,336.29 L86.89,335.61 L86.95,334.94 L87.02,334.26 L87.08,333.58 L87.13,332.90 L87.19,332.23 L87.25,331.55 L87.30,330.87 L87.35,330.19 L87.40,329.51 L87.45,328.83 L87.50,328.15 L87.54,327.47 L87.59,326.79 L87.63,326.11 L87.67,325.43 L87.71,324.75 L87.75,324.06 L87.79,323.38 L87.83,322.70 L87.86,322.02 L87.89,321.34 L87.93,320.66 L87.96,319.97 L87.99,319.29 L88.02,318.61 L88.05,317.93 L88.08,317.24 L88.10,316.56 L88.13,315.88 L88.15,315.20 L88.18,314.51 L88.20,313.83 L88.22,313.15 L88.25,312.47 L88.27,311.78 L88.29,311.10 L88.31,310.42 L88.33,309.74 L88.35,309.05 L88.37,308.37 L88.38,307.69 L88.40,307.01 L88.42,306.33 L88.44,305.65 L88.45,304.96 L88.47,304.28 L88.48,303.60 L88.50,302.92 L88.52,302.24 L88.53,301.56 L88.55,300.88 L88.56,300.20 L88.58,299.52 L88.59,298.84 L88.61,298.16 L88.62,297.48 L88.64,296.80 L88.65,296.12 L88.67,295.45 L88.68,294.77 L88.70,294.09 L88.72,293.41 L88.73,292.74 L88.75,292.06 L88.77,291.39 L88.78,290.71 L88.80,290.03 L88.82,289.36 L88.84,288.69 L88.86,288.01 L88.88,287.34 L88.90,286.67 L88.92,285.99 L88.94,285.32 L88.97,284.65 L88.99,283.98 L89.02,283.31 L89.04,282.64 L89.07,281.97 L89.09,281.30 L89.12,280.63 L89.15,279.97 L89.18,279.30 L89.21,278.63 L89.24,277.97 L89.28,277.30 L89.31,276.64 L89.34,275.98 L89.38,275.31 L89.42,274.65 L89.46,273.99 L89.50,273.33 L89.54,272.67 L89.58,272.01 L89.63,271.35 L89.67,270.69 L89.72,270.04 L89.77,269.38 L89.82,268.72 L89.87,268.07 L89.93,267.42 L89.98,266.76 L90.04,266.11 L90.10,265.46 L90.16,264.81 L90.22,264.16 L90.28,263.51 L90.35,262.86 L90.42,262.22 L90.49,261.57 L90.56,260.93 L90.63,260.28 L90.71,259.64 L90.79,259.00 L90.87,258.36" fill="none" stroke="#1c1c1c" stroke-width="1" stroke-dasharray="4.3 2.9"/>
<path d="M100.33,258.20 L100.49,259.36 L100.64,260.52 L100.79,261.69 L100.93,262.87 L101.07,264.05 L101.20,265.23 L101.32,266.43 L101.43,267.62 L101.54,268.82 L101.65,270.02 L101.75,271.23 L101.85,272.45 L101.94,273.66 L102.03,274.88 L102.11,276.11 L102.19,277.33 L102.27,278.57 L102.34,279.80 L102.41,281.04 L102.48,282.28 L102.54,283.52 L102.61,284.77 L102.67,286.02 L102.73,287.27 L102.79,288.52 L102.85,289.78 L102.90,291.04 L102.96,292.30 L103.02,293.56 L103.08,294.82 L103.13,296.09 L103.19,297.36 L103.25,298.63 L103.31,299.89 L103.37,301.17 L103.43,302.44 L103.50,303.71 L103.56,304.98 L103.63,306.25 L103.70,307.53 L103.78,308.80 L103.86,310.07 L103.94,311.35 L104.02,312.62 L104.11,313.89 L104.21,315.17 L104.31,316.44 L104.41,317.71 L104.52,318.98 L104.63,320.25 L104.75,321.52 L104.87,322.79 L105.00,324.05 L105.14,325.31 L105.29,326.58 L105.44,327.84 L105.60,329.10 L105.76,330.35 L105.94,331.61 L106.12,332.86 L106.31,334.11 L106.50,335.35 L106.71,336.60 L106.93,337.84 L107.15,339.07 L107.39,340.31 L107.63,341.54 L107.89,342.77 L108.15,343.99 L108.43,345.21 L108.72,346.43 L109.01,347.64 L109.32,348.85 L109.64,350.05 L109.98,351.25 L110.32,352.45 L110.68,353.64 L111.05,354.82 L111.43,356.00 L111.83,357.18 L112.24,358.35 L112.67,359.52 L113.10,360.67 L113.56,361.83 L114.02,362.98 L114.51,364.12 L115.00,365.25 L115.52,366.38 L116.04,367.51 L116.59,368.62 L117.15,369.73 L117.73,370.84 L118.32,371.93 L118.93,373.02 L119.56,374.10 L120.20,375.17 L120.87,376.22 L121.55,377.26 L122.25,378.29 L122.96,379.30 L123.70,380.29 L124.46,381.26 L125.23,382.22 L126.03,383.15 L126.84,384.07 L127.68,384.96 L128.54,385.82 L129.41,386.66 L130.31,387.47 L131.23,388.26 L132.17,389.02 L133.13,389.74 L134.12,390.44 L135.12,391.10 L136.15,391.75 L137.19,392.36 L138.24,392.95 L139.32,393.52 L140.41,394.06 L141.51,394.59 L142.62,395.09 L143.75,395.58 L144.89,396.05 L146.03,396.50 L147.19,396.94 L148.35,397.36 L149.52,397.78 L150.69,398.18 L151.87,398.57 L153.05,398.96 L154.23,399.33 L155.42,399.71 L156.60,400.07 L157.79,400.43 L158.98,400.78 L160.17,401.12 L161.37,401.46 L162.56,401.79 L163.76,402.12 L164.96,402.43 L166.16,402.75 L167.36,403.05 L168.56,403.35 L169.77,403.65 L170.97,403.94 L172.18,404.22 L173.39,404.49 L174.60,404.76 L175.82,405.03 L177.03,405.29 L178.25,405.54 L179.46,405.79 L180.68,406.03 L181.90,406.27 L183.12,406.51 L184.34,406.73 L185.57,406.95 L186.79,407.17 L188.02,407.38 L189.24,407.59 L190.47,407.79 L191.70,407.99 L192.93,408.18 L194.16,408.37 L195.40,408.56 L196.63,408.74 L197.86,408.91 L199.10,409.08 L200.34,409.25 L201.57,409.41 L202.81,409.57 L204.05,409.72 L205.29,409.87 L206.53,410.02 L207.77,410.16 L209.02,410.30 L210.26,410.43 L211.50,410.56 L212.75,410.69 L213.99,410.81 L215.24,410.93 L216.48,411.05 L217.73,411.16 L218.98,411.27 L220.23,411.38 L221.48,411.48 L222.72,411.58 L223.97,411.68 L225.22,411.78 L226.47,411.87 L227.72,411.96 L228.98,412.04 L230.23,412.13 L231.48,412.21 L232.73,412.29 L233.98,412.36 L235.23,412.44 L236.49,412.51 L237.74,412.58 L238.99,412.65 L240.25,412.71 L241.50,412.78 L242.75,412.84 L244.00,412.90 L245.26,412.96 L246.51,413.01 L247.76,413.07 L249.02,413.12 L250.27,413.17 L251.52,413.22 L252.78,413.27 L254.03,413.32 L255.28,413.36 L256.53,413.41 L257.78,413.45 L259.04,413.49 L260.29,413.54 L261.54,413.58 L262.79,413.62 L264.04,413.66 L265.29,413.69 L266.54,413.73 L267.79,413.77 L269.04,413.81 L270.28,413.84 L271.53,413.88 L272.78,413.92 L274.02,413.95 L275.27,413.99 L276.52,414.02 L277.76,414.06 L279.00,414.09 L280.25,414.13 L281.49,414.16 L282.73,414.20 L283.97,414.24 L285.21,414.27 L286.45,414.31 L287.69,414.35 L288.93,414.39 L290.16,414.43 L291.40,414.47 L292.63,414.51 L293.87,414.55 L295.10,414.59 L296.33,414.64 L297.56,414.68 L298.79,414.73 L300.02,414.78 L301.24,414.82 L302.47,414.87 L303.69,414.93 L304.92,414.98 L306.14,415.03 L307.36,415.09 L308.58,415.15 L309.80,415.21 L311.02,415.27 L312.23,415.33" fill="none" stroke="#1c1c1c" stroke-width="1" stroke-dasharray="4.3 2.9"/>
<path d="M107.94,258.39 L108.08,259.49 L108.21,260.60 L108.34,261.72 L108.46,262.84 L108.58,263.96 L108.70,265.10 L108.81,266.23 L108.92,267.37 L109.02,268.52 L109.12,269.67 L109.22,270.83 L109.32,271.99 L109.41,273.15 L109.51,274.32 L109.60,275.49 L109.68,276.66 L109.77,277.84 L109.86,279.02 L109.94,280.21 L110.03,281.40 L110.11,282.59 L110.19,283.78 L110.28,284.98 L110.36,286.18 L110.44,287.38 L110.53,288.58 L110.61,289.79 L110.70,291.00 L110.78,292.21 L110.87,293.42 L110.96,294.63 L111.05,295.84 L111.14,297.06 L111.24,298.27 L111.34,299.49 L111.44,300.71 L111.54,301.92 L111.65,303.14 L111.76,304.36 L111.87,305.58 L111.99,306.80 L112.11,308.02 L112.24,309.23 L112.37,310.45 L112.50,311.67 L112.64,312.88 L112.79,314.10 L112.94,315.31 L113.10,316.53 L113.26,317.74 L113.42,318.95 L113.60,320.15 L113.78,321.36 L113.97,322.57 L114.16,323.77 L114.36,324.97 L114.57,326.16 L114.78,327.36 L115.01,328.55 L115.24,329.74 L115.48,330.93 L115.73,332.11 L115.98,333.29 L116.25,334.46 L116.52,335.64 L116.80,336.81 L117.10,337.97 L117.40,339.13 L117.71,340.29 L118.04,341.44 L118.37,342.59 L118.71,343.73 L119.07,344.87 L119.43,346.00 L119.81,347.13 L120.20,348.25 L120.60,349.37 L121.01,350.48 L121.43,351.59 L121.87,352.69 L122.32,353.78 L122.78,354.87 L123.25,355.95 L123.74,357.02 L124.24,358.09 L124.76,359.15 L125.29,360.21 L125.83,361.26 L126.39,362.30 L126.96,363.33 L127.54,364.36 L128.15,365.37 L128.76,366.38 L129.39,367.38 L130.04,368.38 L130.70,369.36 L131.38,370.33 L132.07,371.29 L132.77,372.25 L133.49,373.19 L134.23,374.12 L134.98,375.03 L135.74,375.94 L136.52,376.83 L137.32,377.71 L138.13,378.58 L138.95,379.43 L139.79,380.27 L140.64,381.09 L141.51,381.90 L142.39,382.69 L143.29,383.47 L144.20,384.23 L145.12,384.98 L146.06,385.71 L147.00,386.43 L147.96,387.14 L148.93,387.83 L149.90,388.51 L150.89,389.18 L151.88,389.83 L152.88,390.47 L153.89,391.10 L154.91,391.72 L155.93,392.32 L156.96,392.92 L157.99,393.50 L159.03,394.07 L160.07,394.63 L161.12,395.18 L162.17,395.71 L163.23,396.24 L164.29,396.76 L165.35,397.26 L166.42,397.76 L167.49,398.24 L168.57,398.72 L169.65,399.18 L170.73,399.63 L171.82,400.08 L172.91,400.51 L174.01,400.94 L175.11,401.35 L176.22,401.76 L177.32,402.16 L178.43,402.55 L179.55,402.92 L180.67,403.29 L181.79,403.65 L182.91,404.01 L184.04,404.35 L185.17,404.68 L186.31,405.01 L187.44,405.33 L188.58,405.64 L189.73,405.94 L190.87,406.23 L192.02,406.52 L193.18,406.80 L194.33,407.07 L195.49,407.33 L196.65,407.59 L197.81,407.84 L198.97,408.08 L200.14,408.32 L201.31,408.54 L202.48,408.76 L203.66,408.98 L204.83,409.19 L206.01,409.39 L207.19,409.58 L208.38,409.77 L209.56,409.95 L210.75,410.13 L211.94,410.30 L213.13,410.47 L214.32,410.62 L215.51,410.78 L216.71,410.93 L217.90,411.07 L219.10,411.21 L220.30,411.34 L221.50,411.47 L222.70,411.59 L223.91,411.71 L225.11,411.82 L226.32,411.93 L227.52,412.04 L228.73,412.14 L229.94,412.23 L231.15,412.33 L232.36,412.41 L233.57,412.50 L234.78,412.58 L235.99,412.66 L237.20,412.73 L238.42,412.80 L239.63,412.87 L240.84,412.93 L242.06,412.99 L243.27,413.05 L244.49,413.10 L245.70,413.16 L246.92,413.21 L248.13,413.25 L249.35,413.30 L250.56,413.34 L251.77,413.38 L252.99,413.42 L254.20,413.46 L255.42,413.49 L256.63,413.53 L257.84,413.56 L259.05,413.59 L260.26,413.62 L261.48,413.65 L262.69,413.67 L263.89,413.70 L265.10,413.72 L266.31,413.75 L267.52,413.77 L268.72,413.79 L269.93,413.82 L271.13,413.84 L272.33,413.86 L273.53,413.88 L274.73,413.91 L275.93,413.93 L277.13,413.95 L278.32,413.98 L279.52,414.00 L280.71,414.02 L281.90,414.05 L283.09,414.07 L284.27,414.10 L285.46,414.13 L286.64,414.16 L287.82,414.19 L289.00,414.22 L290.18,414.25 L291.35,414.29 L292.53,414.33 L293.70,414.36 L294.86,414.41 L296.03,414.45 L297.19,414.49 L298.35,414.54 L299.51,414.59 L300.66,414.64 L301.82,414.70 L302.97,414.76 L304.11,414.82 L305.26,414.88 L306.40,414.95 L307.54,415.02 L308.67,415.09 L309.80,415.17 L310.93,415.25 L312.06,415.33" fill="none" stroke="#1c1c1c" stroke-width="1"/>
<path d="M405.32,273.18 L406.35,273.28 L407.39,273.38 L408.42,273.48 L409.45,273.58 L410.49,273.68 L411.52,273.78 L412.55,273.88 L413.59,273.99 L414.62,274.09 L415.65,274.20 L416.69,274.30 L417.72,274.41 L418.75,274.52 L419.78,274.63 L420.82,274.74 L421.85,274.85 L422.88,274.96 L423.91,275.07 L424.95,275.19 L425.98,275.30 L427.01,275.42 L428.04,275.53 L429.07,275.65 L430.10,275.77 L431.14,275.89 L432.17,276.01 L433.20,276.13 L434.23,276.25 L435.26,276.37 L436.29,276.50 L437.32,276.62 L438.35,276.75 L439.38,276.87 L440.41,277.00 L441.44,277.13 L442.47,277.26 L443.50,277.39 L444.53,277.52 L445.56,277.65 L446.59,277.78 L447.62,277.92 L448.65,278.05 L449.68,278.19 L450.71,278.32 L451.74,278.46 L452.77,278.60 L453.80,278.73 L454.83,278.87 L455.85,279.01 L456.88,279.15 L457.91,279.30 L458.94,279.44 L459.97,279.58 L461.00,279.73 L462.02,279.87 L463.05,280.02 L464.08,280.17 L465.11,280.31 L466.13,280.46 L467.16,280.61 L468.19,280.76 L469.21,280.91 L470.24,281.07 L471.27,281.22 L472.29,281.37 L473.32,281.53 L474.35,281.68 L475.37,281.84 L476.40,282.00 L477.43,282.15 L478.45,282.31 L479.48,282.47 L480.50,282.63 L481.53,282.79 L482.55,282.96 L483.58,283.12 L484.60,283.28 L485.63,283.45 L486.65,283.61 L487.68,283.78 L488.70,283.94 L489.73,284.11 L490.75,284.28 L491.78,284.45 L492.80,284.62 L493.82,284.79 L494.85,284.96 L495.87,285.14 L496.90,285.31 L497.92,285.48 L498.94,285.66 L499.97,285.83 L500.99,286.01 L502.01,286.19 L503.03,286.37 L504.06,286.54 L505.08,286.72 L506.10,286.90 L507.12,287.09 L508.15,287.27 L509.17,287.45 L510.19,287.63 L511.21,287.82 L512.23,288.00 L513.25,288.19 L514.28,288.38 L515.30,288.56 L516.32,288.75 L517.34,288.94 L518.36,289.13 L519.38,289.32 L520.40,289.51 L521.42,289.70 L522.44,289.90 L523.46,290.09 L524.48,290.28 L525.50,290.48 L526.52,290.67 L527.54,290.87 L528.56,291.07 L529.58,291.27 L530.60,291.47 L531.62,291.66 L532.63,291.87 L533.65,292.07 L534.67,292.27 L535.69,292.47 L536.71,292.67 L537.73,292.88 L538.74,293.08 L539.76,293.29 L540.78,293.49 L541.80,293.70 L542.81,293.91 L543.83,294.12 L544.85,294.33 L545.86,294.54 L546.88,294.75 L547.90,294.96 L548.91,295.17 L549.93,295.38 L550.95,295.60 L551.96,295.81 L552.98,296.02 L553.99,296.24 L555.01,296.46 L556.03,296.67 L557.04,296.89 L558.06,297.11 L559.07,297.33 L560.09,297.55 L561.10,297.77 L562.11,297.99 L563.13,298.21 L564.14,298.43 L565.16,298.66 L566.17,298.88 L567.18,299.11 L568.20,299.33 L569.21,299.56 L570.22,299.78 L571.24,300.01 L572.25,300.24 L573.26,300.47 L574.28,300.70 L575.29,300.93 L576.30,301.16 L577.31,301.39 L578.33,301.62 L579.34,301.86 L580.35,302.09 L581.36,302.32 L582.37,302.56 L583.38,302.79 L584.39,303.03 L585.41,303.27 L586.42,303.51 L587.43,303.74 L588.44,303.98 L589.45,304.22 L590.46,304.46 L591.47,304.70 L592.48,304.94 L593.49,305.19 L594.50,305.43 L595.51,305.67 L596.51,305.92 L597.52,306.16 L598.53,306.41 L599.54,306.65 L600.55,306.90 L601.56,307.15 L602.57,307.40 L603.57,307.64 L604.58,307.89 L605.59,308.14 L606.60,308.39 L607.60,308.65 L608.61,308.90 L609.62,309.15 L610.63,309.40 L611.63,309.66 L612.64,309.91 L613.65,310.17 L614.65,310.42 L615.66,310.68 L616.66,310.93 L617.67,311.19 L618.67,311.45 L619.68,311.71 L620.69,311.97 L621.69,312.23 L622.69,312.49 L623.70,312.75 L624.70,313.01 L625.71,313.27 L626.71,313.54 L627.72,313.80 L628.72,314.06 L629.72,314.33 L630.73,314.59 L631.73,314.86 L632.73,315.13 L633.74,315.39 L634.74,315.66 L635.74,315.93 L636.74,316.20 L637.75,316.47 L638.75,316.74 L639.75,317.01 L640.75,317.28 L641.75,317.55 L642.76,317.82 L643.76,318.10 L644.76,318.37 L645.76,318.64 L646.76,318.92 L647.76,319.19 L648.76,319.47 L649.76,319.75 L650.76,320.02 L651.76,320.30 L652.76,320.58 L653.76,320.86 L654.76,321.14 L655.76,321.42 L656.76,321.70 L657.76,321.98 L658.75,322.26 L659.75,322.54 L660.75,322.82 L661.75,323.11 L662.75,323.39 L663.74,323.67 L664.74,323.96 L665.74,324.24 L666.74,324.53 L667.73,324.82 L668.73,325.10" fill="none" stroke="#1c1c1c" stroke-width="1" stroke-dasharray="4.3 2.9"/>
<path d="M406.07,407.13 L406.81,406.30 L407.56,405.46 L408.31,404.63 L409.06,403.80 L409.81,402.97 L410.57,402.14 L411.33,401.32 L412.10,400.50 L412.87,399.68 L413.64,398.86 L414.41,398.04 L415.19,397.23 L415.97,396.42 L416.75,395.61 L417.54,394.80 L418.33,394.00 L419.12,393.20 L419.92,392.40 L420.72,391.60 L421.52,390.81 L422.33,390.02 L423.14,389.23 L423.95,388.44 L424.77,387.66 L425.59,386.88 L426.41,386.10 L427.23,385.32 L428.06,384.55 L428.89,383.78 L429.72,383.01 L430.56,382.24 L431.40,381.48 L432.24,380.72 L433.09,379.96 L433.93,379.21 L434.79,378.46 L435.64,377.71 L436.50,376.96 L437.36,376.22 L438.22,375.48 L439.08,374.74 L439.95,374.01 L440.82,373.28 L441.70,372.55 L442.57,371.83 L443.45,371.11 L444.33,370.39 L445.22,369.67 L446.11,368.96 L447.00,368.25 L447.89,367.55 L448.79,366.84 L449.68,366.15 L450.58,365.45 L451.49,364.76 L452.39,364.07 L453.30,363.38 L454.21,362.70 L455.13,362.02 L456.04,361.35 L456.96,360.68 L457.89,360.01 L458.81,359.34 L459.74,358.68 L460.66,358.02 L461.60,357.37 L462.53,356.72 L463.47,356.07 L464.41,355.43 L465.35,354.79 L466.29,354.16 L467.24,353.53 L468.19,352.90 L469.14,352.27 L470.09,351.65 L471.05,351.04 L472.00,350.42 L472.96,349.82 L473.93,349.21 L474.89,348.61 L475.86,348.01 L476.83,347.42 L477.80,346.83 L478.77,346.25 L479.75,345.67 L480.73,345.09 L481.71,344.52 L482.69,343.95 L483.68,343.39 L484.67,342.83 L485.65,342.27 L486.65,341.72 L487.64,341.18 L488.63,340.63 L489.63,340.10 L490.63,339.56 L491.63,339.03 L492.64,338.51 L493.64,337.99 L494.65,337.47 L495.66,336.96 L496.67,336.45 L497.69,335.95 L498.70,335.45 L499.72,334.96 L500.74,334.47 L501.76,333.99 L502.79,333.51 L503.81,333.03 L504.84,332.56 L505.87,332.10 L506.90,331.64 L507.93,331.18 L508.97,330.73 L510.00,330.28 L511.04,329.84 L512.08,329.41 L513.12,328.98 L514.17,328.55 L515.21,328.13 L516.26,327.71 L517.31,327.30 L518.36,326.89 L519.41,326.49 L520.46,326.10 L521.52,325.71 L522.58,325.32 L523.63,324.94 L524.69,324.56 L525.76,324.19 L526.82,323.83 L527.89,323.47 L528.95,323.11 L530.02,322.76 L531.09,322.42 L532.16,322.08 L533.23,321.75 L534.31,321.42 L535.38,321.10 L536.46,320.78 L537.54,320.47 L538.62,320.16 L539.70,319.86 L540.78,319.57 L541.87,319.28 L542.95,319.00 L544.04,318.72 L545.13,318.45 L546.22,318.18 L547.31,317.92 L548.40,317.66 L549.50,317.41 L550.59,317.17 L551.69,316.93 L552.78,316.70 L553.88,316.47 L554.98,316.25 L556.08,316.04 L557.19,315.83 L558.29,315.63 L559.39,315.43 L560.50,315.24 L561.61,315.06 L562.71,314.88 L563.82,314.70 L564.93,314.54 L566.04,314.38 L567.15,314.22 L568.27,314.07 L569.38,313.93 L570.49,313.79 L571.61,313.66 L572.72,313.53 L573.84,313.41 L574.96,313.30 L576.08,313.19 L577.20,313.09 L578.31,313.00 L579.44,312.91 L580.56,312.82 L581.68,312.74 L582.80,312.67 L583.92,312.61 L585.05,312.55 L586.17,312.50 L587.29,312.45 L588.42,312.41 L589.54,312.37 L590.67,312.34 L591.80,312.32 L592.92,312.30 L594.05,312.29 L595.18,312.29 L596.30,312.29 L597.43,312.30 L598.56,312.31 L599.69,312.33 L600.82,312.36 L601.94,312.39 L603.07,312.43 L604.20,312.48 L605.33,312.53 L606.46,312.59 L607.59,312.65 L608.72,312.72 L609.85,312.80 L610.98,312.88 L612.11,312.97 L613.24,313.06 L614.37,313.16 L615.50,313.27 L616.62,313.39 L617.75,313.51 L618.88,313.63 L620.01,313.77 L621.14,313.90 L622.27,314.05 L623.40,314.20 L624.52,314.36 L625.65,314.52 L626.78,314.69 L627.90,314.87 L629.03,315.06 L630.16,315.25 L631.28,315.44 L632.41,315.64 L633.53,315.85 L634.65,316.07 L635.78,316.29 L636.90,316.52 L638.02,316.75 L639.14,317.00 L640.26,317.24 L641.39,317.50 L642.50,317.76 L643.62,318.02 L644.74,318.30 L645.86,318.58 L646.98,318.86 L648.09,319.16 L649.21,319.46 L650.32,319.76 L651.44,320.08 L652.55,320.40 L653.66,320.72 L654.77,321.05 L655.88,321.39 L656.99,321.74 L658.10,322.09 L659.20,322.45 L660.31,322.81 L661.41,323.19 L662.52,323.56 L663.62,323.95 L664.72,324.34 L665.82,324.74 L666.92,325.14 L668.02,325.56 L669.11,325.97" fill="none" stroke="#1c1c1c" stroke-width="1"/>
<path d="M406.23,415.36 L407.22,414.97 L408.22,414.58 L409.21,414.18 L410.20,413.77 L411.19,413.36 L412.18,412.95 L413.17,412.53 L414.16,412.11 L415.15,411.68 L416.13,411.24 L417.12,410.81 L418.10,410.37 L419.08,409.92 L420.06,409.47 L421.04,409.01 L422.02,408.55 L423.00,408.09 L423.97,407.62 L424.95,407.15 L425.92,406.68 L426.90,406.20 L427.87,405.71 L428.84,405.23 L429.81,404.74 L430.78,404.24 L431.75,403.75 L432.72,403.24 L433.69,402.74 L434.65,402.23 L435.62,401.72 L436.59,401.21 L437.55,400.69 L438.51,400.17 L439.48,399.64 L440.44,399.12 L441.40,398.59 L442.36,398.05 L443.32,397.52 L444.28,396.98 L445.24,396.44 L446.20,395.90 L447.16,395.35 L448.12,394.80 L449.07,394.25 L450.03,393.70 L450.99,393.14 L451.94,392.59 L452.90,392.03 L453.85,391.46 L454.81,390.90 L455.76,390.33 L456.71,389.77 L457.67,389.20 L458.62,388.63 L459.57,388.05 L460.52,387.48 L461.47,386.90 L462.43,386.32 L463.38,385.75 L464.33,385.17 L465.28,384.58 L466.23,384.00 L467.18,383.42 L468.13,382.83 L469.08,382.24 L470.03,381.66 L470.98,381.07 L471.93,380.48 L472.88,379.89 L473.83,379.30 L474.78,378.71 L475.73,378.11 L476.68,377.52 L477.63,376.93 L478.58,376.33 L479.53,375.74 L480.48,375.15 L481.43,374.55 L482.38,373.96 L483.33,373.36 L484.28,372.77 L485.23,372.17 L486.18,371.58 L487.13,370.98 L488.09,370.39 L489.04,369.80 L489.99,369.20 L490.94,368.61 L491.89,368.02 L492.85,367.42 L493.80,366.83 L494.75,366.24 L495.71,365.65 L496.66,365.06 L497.61,364.47 L498.57,363.88 L499.53,363.30 L500.48,362.71 L501.44,362.13 L502.39,361.54 L503.35,360.96 L504.31,360.38 L505.27,359.80 L506.23,359.22 L507.19,358.65 L508.15,358.07 L509.11,357.50 L510.07,356.93 L511.03,356.36 L512.00,355.79 L512.96,355.22 L513.92,354.66 L514.89,354.10 L515.86,353.54 L516.82,352.98 L517.79,352.42 L518.76,351.87 L519.73,351.32 L520.70,350.77 L521.67,350.22 L522.64,349.68 L523.61,349.14 L524.59,348.60 L525.56,348.06 L526.54,347.53 L527.51,347.00 L528.49,346.47 L529.47,345.95 L530.45,345.43 L531.43,344.91 L532.41,344.39 L533.39,343.88 L534.38,343.37 L535.36,342.87 L536.35,342.37 L537.34,341.87 L538.32,341.37 L539.31,340.88 L540.31,340.39 L541.30,339.91 L542.29,339.43 L543.29,338.95 L544.28,338.48 L545.28,338.01 L546.28,337.55 L547.28,337.09 L548.28,336.63 L549.28,336.18 L550.29,335.73 L551.29,335.29 L552.30,334.85 L553.31,334.42 L554.32,333.99 L555.33,333.57 L556.34,333.15 L557.36,332.73 L558.37,332.32 L559.39,331.91 L560.41,331.51 L561.43,331.12 L562.45,330.73 L563.48,330.34 L564.50,329.96 L565.53,329.59 L566.56,329.22 L567.59,328.85 L568.62,328.49 L569.66,328.14 L570.69,327.79 L571.73,327.45 L572.77,327.11 L573.81,326.78 L574.85,326.46 L575.90,326.14 L576.94,325.83 L577.99,325.52 L579.04,325.22 L580.09,324.92 L581.14,324.63 L582.20,324.35 L583.26,324.07 L584.31,323.80 L585.37,323.54 L586.43,323.28 L587.49,323.03 L588.56,322.78 L589.62,322.54 L590.69,322.31 L591.76,322.08 L592.83,321.86 L593.90,321.65 L594.97,321.45 L596.05,321.25 L597.12,321.05 L598.20,320.87 L599.28,320.69 L600.36,320.52 L601.44,320.35 L602.52,320.19 L603.61,320.04 L604.69,319.90 L605.78,319.76 L606.87,319.63 L607.96,319.51 L609.05,319.40 L610.14,319.29 L611.24,319.19 L612.33,319.10 L613.43,319.01 L614.53,318.93 L615.63,318.86 L616.73,318.80 L617.83,318.75 L618.93,318.70 L620.04,318.66 L621.14,318.63 L622.25,318.61 L623.36,318.59 L624.47,318.58 L625.58,318.59 L626.69,318.59 L627.80,318.61 L628.92,318.64 L630.03,318.67 L631.15,318.71 L632.27,318.76 L633.39,318.82 L634.51,318.89 L635.63,318.96 L636.75,319.05 L637.87,319.14 L639.00,319.24 L640.12,319.35 L641.25,319.47 L642.38,319.60 L643.51,319.74 L644.64,319.88 L645.77,320.04 L646.90,320.20 L648.03,320.37 L649.17,320.55 L650.30,320.74 L651.44,320.94 L652.58,321.15 L653.71,321.37 L654.85,321.60 L655.99,321.83 L657.14,322.08 L658.28,322.34 L659.42,322.60 L660.56,322.88 L661.71,323.16 L662.85,323.46 L664.00,323.76 L665.15,324.07 L666.30,324.40 L667.45,324.73 L668.60,325.07 L669.75,325.43" fill="none" stroke="#1c1c1c" stroke-width="1" stroke-dasharray="1.3 3.2"/>
<path d="M168.6,73.9 C168.9,80 168.5,86 165.9,92.6" fill="none" stroke="#a0a0a0" stroke-width="1"/>
<path d="M158.8,123.1 C156.8,128 155.3,133 155.2,142.3" fill="none" stroke="#a0a0a0" stroke-width="1"/>
<path d="M536.3,39.7 C536.5,47 535,53 531.5,59.1" fill="none" stroke="#a0a0a0" stroke-width="1"/>
<path d="M567.3,83.2 C567.5,89 566,96 563.6,102.1" fill="none" stroke="#a0a0a0" stroke-width="1"/>
<path d="M465.4,112 C467.5,117 470,123.5 475.5,124.2 L483,124.3" fill="none" stroke="#a0a0a0" stroke-width="1"/>
<path d="M142.9,356 C143,363 141.5,369 139,374.5" fill="none" stroke="#a0a0a0" stroke-width="1"/>
<path d="M158.9,378.8 C158.6,385 157.5,391 156.3,397.3" fill="none" stroke="#a0a0a0" stroke-width="1"/>
<path d="M554.7,294.7 C555,301 555.6,308 556.4,314.5" fill="none" stroke="#a0a0a0" stroke-width="1"/>
<path d="M599.4,283.5 C599.3,291 597.8,298 595.1,304.1" fill="none" stroke="#a0a0a0" stroke-width="1"/>
<path d="M529.6,348.4 C531.5,353 533.5,358.5 538.5,359.2 L546,359.4" fill="none" stroke="#a0a0a0" stroke-width="1"/>
<text x="164.8" y="69.0" font-size="10.5" font-style="italic" fill="#222">&#948;</text>
<text x="169.50" y="71.20" font-size="7.8" fill="#222">1</text>
<text x="148.8" y="154.4" font-size="10.5" font-style="italic" fill="#222">&#948;</text>
<text x="153.50" y="156.60" font-size="7.8" fill="#222">2</text>
<text x="137.8" y="350.6" font-size="10.5" font-style="italic" fill="#222">&#948;</text>
<text x="142.50" y="352.80" font-size="7.8" fill="#222">1</text>
<text x="153.8" y="372.8" font-size="10.5" font-style="italic" fill="#222">&#948;</text>
<text x="158.50" y="375.00" font-size="7.8" fill="#222">2</text>
<text x="524.4" y="33.2" font-size="10.8" font-style="italic" fill="#222">S</text>
<text x="530.20" y="28.80" font-size="8.6" fill="#222">(1)</text>
<text x="530.20" y="36.60" font-size="8.6" fill="#222">Deriv</text>
<text x="559.5" y="76.6" font-size="10.8" font-style="italic" fill="#222">S</text>
<text x="565.30" y="72.20" font-size="8.6" fill="#222">(1)</text>
<text x="565.30" y="80.00" font-size="8.6" fill="#222">GY</text>
<text x="484.7" y="127.9" font-size="10.8" font-style="italic" fill="#222">S</text>
<text x="490.50" y="123.50" font-size="8.6" fill="#222">(1)</text>
<text x="490.50" y="131.30" font-size="8.6" fill="#222">Deriv</text>
<text x="510.30" y="127.90" font-size="10.8" fill="#222">+0&#8722;Mode</text>
<text x="544.5" y="288.2" font-size="10.8" font-style="italic" fill="#222">S</text>
<text x="550.30" y="283.80" font-size="8.6" fill="#222">(1)</text>
<text x="550.30" y="291.60" font-size="8.6" fill="#222">GY</text>
<text x="587.5" y="277.4" font-size="10.8" font-style="italic" fill="#222">S</text>
<text x="593.30" y="273.00" font-size="8.6" fill="#222">(1)</text>
<text x="593.30" y="280.80" font-size="8.6" fill="#222">Deriv</text>
<text x="547.9" y="363.3" font-size="10.8" font-style="italic" fill="#222">S</text>
<text x="553.70" y="358.90" font-size="8.6" fill="#222">(1)</text>
<text x="553.70" y="366.70" font-size="8.6" fill="#222">Deriv</text>
<text x="573.50" y="363.30" font-size="10.8" fill="#222">+0&#8722;Mode</text>
<text x="182.6" y="208.2" font-size="10.5" font-style="italic" text-anchor="middle" fill="#222">&#945;</text>
<text x="541.2" y="208.5" font-size="10.5" font-style="italic" text-anchor="middle" fill="#222">&#945;</text>
<text x="180.0" y="454.8" font-size="10.5" font-style="italic" text-anchor="middle" fill="#222">&#945;</text>
<text x="541.5" y="454.3" font-size="10.5" font-style="italic" text-anchor="middle" fill="#222">&#945;</text>
<g transform="translate(7.0,103.5) rotate(-90)" fill="#222" font-size="10.5"><text x="0" y="0" font-style="italic">&#948;</text><text x="8.0" y="0" font-style="italic">S</text><text x="15.2" y="0" font-size="9.6">[%]</text></g>
<g transform="translate(7.0,348.9) rotate(-90)" fill="#222" font-size="10.5"><text x="0" y="0" font-style="italic">&#948;</text><text x="8.0" y="0" font-style="italic">S</text><text x="15.2" y="0" font-size="9.6">[%]</text></g>
<g transform="translate(366.3,113.7) rotate(-90)" fill="#222" font-style="italic" font-size="10.8"><text x="0.4" y="0" font-style="normal">(</text><text x="3.6" y="0">1</text><text x="8.4" y="0" font-style="normal">&#8722;</text><text x="15.0" y="0">&#945;</text><text x="20.9" y="0" font-style="normal">)</text><text x="24.3" y="-5.0" font-size="7.6" font-style="normal">3</text><text x="31.8" y="0">S</text><text x="37.3" y="-5.2" font-size="7.6">(1)</text><text x="37.8" y="2.4" font-size="7.6">H</text></g>
<g transform="translate(366.3,359.7) rotate(-90)" fill="#222" font-style="italic" font-size="10.8"><text x="0.4" y="0" font-style="normal">(</text><text x="3.6" y="0">1</text><text x="8.4" y="0" font-style="normal">&#8722;</text><text x="15.0" y="0">&#945;</text><text x="20.9" y="0" font-style="normal">)</text><text x="24.3" y="-5.0" font-size="7.6" font-style="normal">3</text><text x="31.8" y="0">S</text><text x="37.3" y="-5.2" font-size="7.6">(1)</text><text x="37.8" y="2.4" font-size="7.6">G</text></g>
<text x="175.2" y="228.8" font-size="19" font-weight="bold" text-anchor="middle" fill="#111" style="stroke:none">(a)</text>
<text x="545.9" y="229.2" font-size="19" font-weight="bold" text-anchor="middle" fill="#111" style="stroke:none">(b)</text>
<text x="174.9" y="481.8" font-size="19" font-weight="bold" text-anchor="middle" fill="#111" style="stroke:none">(c)</text>
<text x="542.6" y="482.1" font-size="19" font-weight="bold" text-anchor="middle" fill="#111" style="stroke:none">(d)</text>
</svg>
</body></html>
